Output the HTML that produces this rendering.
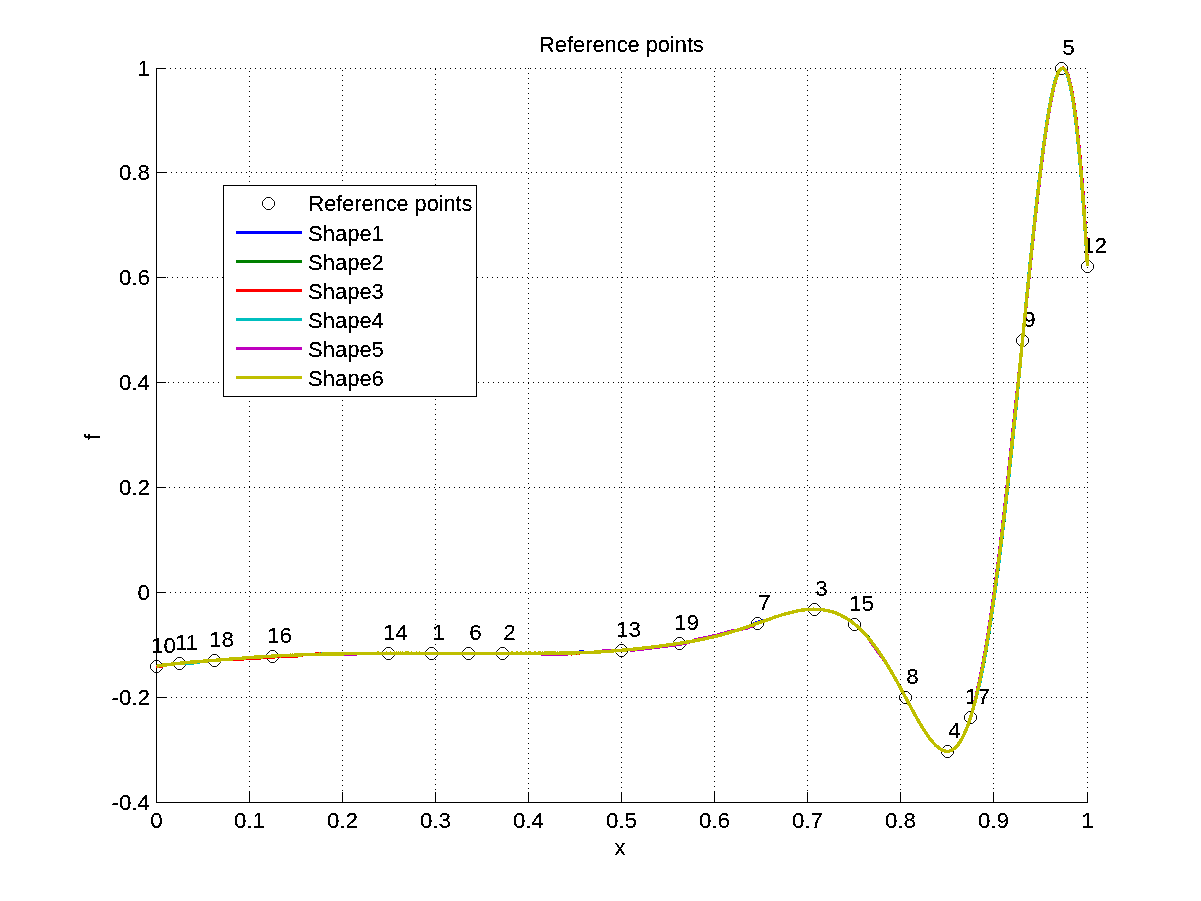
<!DOCTYPE html><html><head><meta charset="utf-8"><title>Reference points</title><style>html,body{margin:0;padding:0;background:#fff;overflow:hidden}</style></head><body><svg width="1201" height="901" viewBox="0 0 1201 901" style="display:block">
<rect x="0" y="0" width="1201" height="901" fill="#fff"/>
<defs><filter id="bin" x="0" y="0" width="100%" height="100%" filterUnits="userSpaceOnUse" color-interpolation-filters="sRGB"><feComponentTransfer><feFuncA type="discrete" tableValues="0 0 0 0 1 1 1 1 1 1"/></feComponentTransfer></filter></defs>
<g stroke="#000" stroke-width="1" stroke-dasharray="1 4" shape-rendering="crispEdges"><line x1="249.5" y1="71" x2="249.5" y2="802" /><line x1="342.5" y1="70" x2="342.5" y2="802" /><line x1="435.5" y1="69" x2="435.5" y2="802" /><line x1="528.5" y1="68" x2="528.5" y2="802" /><line x1="621.5" y1="72" x2="621.5" y2="802" /><line x1="714.5" y1="71" x2="714.5" y2="802" /><line x1="807.5" y1="70" x2="807.5" y2="802" /><line x1="900.5" y1="69" x2="900.5" y2="802" /><line x1="993.5" y1="68" x2="993.5" y2="802" /><line x1="1087.5" y1="72" x2="1087.5" y2="802" /><line x1="160" y1="68.5" x2="1088" y2="68.5" /><line x1="161" y1="172.5" x2="1088" y2="172.5" /><line x1="157" y1="277.5" x2="1088" y2="277.5" /><line x1="158" y1="382.5" x2="1088" y2="382.5" /><line x1="159" y1="487.5" x2="1088" y2="487.5" /><line x1="160" y1="592.5" x2="1088" y2="592.5" /><line x1="161" y1="697.5" x2="1088" y2="697.5" /></g>
<g stroke="#000" stroke-width="1" shape-rendering="crispEdges"><line x1="156.5" y1="68" x2="156.5" y2="803"/><line x1="156" y1="802.5" x2="1088" y2="802.5"/><line x1="156.5" y1="792" x2="156.5" y2="803"/><line x1="249.5" y1="792" x2="249.5" y2="803"/><line x1="342.5" y1="792" x2="342.5" y2="803"/><line x1="435.5" y1="792" x2="435.5" y2="803"/><line x1="528.5" y1="792" x2="528.5" y2="803"/><line x1="621.5" y1="792" x2="621.5" y2="803"/><line x1="714.5" y1="792" x2="714.5" y2="803"/><line x1="807.5" y1="792" x2="807.5" y2="803"/><line x1="900.5" y1="792" x2="900.5" y2="803"/><line x1="993.5" y1="792" x2="993.5" y2="803"/><line x1="1087.5" y1="792" x2="1087.5" y2="803"/><line x1="156" y1="68.5" x2="166" y2="68.5"/><line x1="156" y1="172.5" x2="166" y2="172.5"/><line x1="156" y1="277.5" x2="166" y2="277.5"/><line x1="156" y1="382.5" x2="166" y2="382.5"/><line x1="156" y1="487.5" x2="166" y2="487.5"/><line x1="156" y1="592.5" x2="166" y2="592.5"/><line x1="156" y1="697.5" x2="166" y2="697.5"/><line x1="156" y1="802.5" x2="166" y2="802.5"/></g>
<g font-family="'Liberation Sans', Arial, Helvetica, sans-serif" font-size="22.3" fill="#000" filter="url(#bin)"><text transform="translate(156.5 828) scale(1 1.0)" text-anchor="middle">0</text><text transform="translate(249.5 828) scale(1 1.0)" text-anchor="middle">0.1</text><text transform="translate(342.5 828) scale(1 1.0)" text-anchor="middle">0.2</text><text transform="translate(435.5 828) scale(1 1.0)" text-anchor="middle">0.3</text><text transform="translate(528.5 828) scale(1 1.0)" text-anchor="middle">0.4</text><text transform="translate(621.5 828) scale(1 1.0)" text-anchor="middle">0.5</text><text transform="translate(714.5 828) scale(1 1.0)" text-anchor="middle">0.6</text><text transform="translate(807.5 828) scale(1 1.0)" text-anchor="middle">0.7</text><text transform="translate(900.5 828) scale(1 1.0)" text-anchor="middle">0.8</text><text transform="translate(993.5 828) scale(1 1.0)" text-anchor="middle">0.9</text><text transform="translate(1087.5 828) scale(1 1.0)" text-anchor="middle">1</text><text transform="translate(150 76) scale(1 1.0)" text-anchor="end">1</text><text transform="translate(150 180) scale(1 1.0)" text-anchor="end">0.8</text><text transform="translate(150 285) scale(1 1.0)" text-anchor="end">0.6</text><text transform="translate(150 390) scale(1 1.0)" text-anchor="end">0.4</text><text transform="translate(150 495) scale(1 1.0)" text-anchor="end">0.2</text><text transform="translate(150 600) scale(1 1.0)" text-anchor="end">0</text><text transform="translate(150 705) scale(1 1.0)" text-anchor="end">-0.2</text><text transform="translate(150 810) scale(1 1.0)" text-anchor="end">-0.4</text><text transform="translate(620 855) scale(1 1.0)" text-anchor="middle" font-size="22">x</text><text transform="translate(100,437) rotate(-90) scale(1 1.0)" text-anchor="middle" font-size="22">f</text><text transform="translate(621.5 52) scale(1 1.0)" text-anchor="middle" font-size="21.8">Reference points</text></g>
<g fill="none" stroke="#000" stroke-width="1"><polygon points="154.5,660.5 158.5,660.5 162.5,664.5 162.5,668.5 158.5,672.5 154.5,672.5 150.5,668.5 150.5,664.5"/><polygon points="177.5,657.5 181.5,657.5 185.5,661.5 185.5,665.5 181.5,669.5 177.5,669.5 173.5,665.5 173.5,661.5"/><polygon points="212.5,654.5 216.5,654.5 220.5,658.5 220.5,662.5 216.5,666.5 212.5,666.5 208.5,662.5 208.5,658.5"/><polygon points="270.5,650.5 274.5,650.5 278.5,654.5 278.5,658.5 274.5,662.5 270.5,662.5 266.5,658.5 266.5,654.5"/><polygon points="386.5,647.5 390.5,647.5 394.5,651.5 394.5,655.5 390.5,659.5 386.5,659.5 382.5,655.5 382.5,651.5"/><polygon points="429.5,647.5 433.5,647.5 437.5,651.5 437.5,655.5 433.5,659.5 429.5,659.5 425.5,655.5 425.5,651.5"/><polygon points="466.5,647.5 470.5,647.5 474.5,651.5 474.5,655.5 470.5,659.5 466.5,659.5 462.5,655.5 462.5,651.5"/><polygon points="500.5,647.5 504.5,647.5 508.5,651.5 508.5,655.5 504.5,659.5 500.5,659.5 496.5,655.5 496.5,651.5"/><polygon points="619.5,644.5 623.5,644.5 627.5,648.5 627.5,652.5 623.5,656.5 619.5,656.5 615.5,652.5 615.5,648.5"/><polygon points="677.5,637.5 681.5,637.5 685.5,641.5 685.5,645.5 681.5,649.5 677.5,649.5 673.5,645.5 673.5,641.5"/><polygon points="755.5,617.5 759.5,617.5 763.5,621.5 763.5,625.5 759.5,629.5 755.5,629.5 751.5,625.5 751.5,621.5"/><polygon points="812.5,603.5 816.5,603.5 820.5,607.5 820.5,611.5 816.5,615.5 812.5,615.5 808.5,611.5 808.5,607.5"/><polygon points="852.5,618.5 856.5,618.5 860.5,622.5 860.5,626.5 856.5,630.5 852.5,630.5 848.5,626.5 848.5,622.5"/><polygon points="903.5,691.5 907.5,691.5 911.5,695.5 911.5,699.5 907.5,703.5 903.5,703.5 899.5,699.5 899.5,695.5"/><polygon points="945.5,745.5 949.5,745.5 953.5,749.5 953.5,753.5 949.5,757.5 945.5,757.5 941.5,753.5 941.5,749.5"/><polygon points="968.5,711.5 972.5,711.5 976.5,715.5 976.5,719.5 972.5,723.5 968.5,723.5 964.5,719.5 964.5,715.5"/><polygon points="1020.5,334.5 1024.5,334.5 1028.5,338.5 1028.5,342.5 1024.5,346.5 1020.5,346.5 1016.5,342.5 1016.5,338.5"/><polygon points="1059.5,62.5 1063.5,62.5 1067.5,66.5 1067.5,70.5 1063.5,74.5 1059.5,74.5 1055.5,70.5 1055.5,66.5"/><polygon points="1085.5,260.5 1089.5,260.5 1093.5,264.5 1093.5,268.5 1089.5,272.5 1085.5,272.5 1081.5,268.5 1081.5,264.5"/></g>
<g font-family="'Liberation Sans', Arial, Helvetica, sans-serif" font-size="22.3" fill="#000" filter="url(#bin)"><text transform="translate(163.5 653) scale(1 1.0)" text-anchor="middle">10</text><text transform="translate(186.5 650) scale(1 1.0)" text-anchor="middle">11</text><text transform="translate(221.5 647) scale(1 1.0)" text-anchor="middle">18</text><text transform="translate(279.5 643) scale(1 1.0)" text-anchor="middle">16</text><text transform="translate(395.5 640) scale(1 1.0)" text-anchor="middle">14</text><text transform="translate(438.5 640) scale(1 1.0)" text-anchor="middle">1</text><text transform="translate(475.5 640) scale(1 1.0)" text-anchor="middle">6</text><text transform="translate(509.5 640) scale(1 1.0)" text-anchor="middle">2</text><text transform="translate(628.5 637) scale(1 1.0)" text-anchor="middle">13</text><text transform="translate(686.5 630) scale(1 1.0)" text-anchor="middle">19</text><text transform="translate(764.5 610) scale(1 1.0)" text-anchor="middle">7</text><text transform="translate(821.5 596) scale(1 1.0)" text-anchor="middle">3</text><text transform="translate(861.5 611) scale(1 1.0)" text-anchor="middle">15</text><text transform="translate(912.5 684) scale(1 1.0)" text-anchor="middle">8</text><text transform="translate(954.5 738) scale(1 1.0)" text-anchor="middle">4</text><text transform="translate(977.5 704) scale(1 1.0)" text-anchor="middle">17</text><text transform="translate(1029.5 327) scale(1 1.0)" text-anchor="middle">9</text><text transform="translate(1068.5 55) scale(1 1.0)" text-anchor="middle">5</text><text transform="translate(1094.5 253) scale(1 1.0)" text-anchor="middle">12</text></g>
<path d="M156.50,666.32 L157.54,666.19 L158.57,665.81 L159.61,665.68 L160.64,665.55 L161.68,665.43 L162.71,665.17 L163.75,665.18 L164.78,664.92 L165.82,664.80 L166.86,664.80 L167.89,664.54 L168.93,664.29 L169.96,664.42 L171.00,664.16 L172.03,663.91 L173.07,663.91 L174.11,663.91 L175.14,663.79 L176.18,663.53 L177.21,663.41 L178.25,663.28 L179.28,663.28 L180.32,663.16 L181.35,663.03 L182.39,662.90 L183.43,662.91 L184.46,662.91 L185.50,662.52 L186.53,662.40 L187.57,662.53 L188.60,662.53 L189.64,662.28 L190.67,662.15 L191.71,662.15 L192.75,662.02 L193.78,662.03 L194.82,661.90 L195.85,661.90 L196.89,661.78 L197.92,661.52 L198.96,661.52 L199.99,661.40 L201.03,661.40 L202.07,661.40 L203.10,661.27 L204.14,661.02 L205.17,660.89 L206.21,660.90 L207.24,661.03 L208.28,660.77 L209.32,660.64 L210.35,660.65 L211.39,660.52 L212.42,660.52 L213.46,660.40 L214.49,660.40 L215.53,660.27 L216.56,660.14 L217.60,660.15 L218.64,659.89 L219.67,660.02 L220.71,659.77 L221.74,659.64 L222.78,659.64 L223.81,659.52 L224.85,659.39 L225.88,659.26 L226.92,659.27 L227.96,659.40 L228.99,659.14 L230.03,659.14 L231.06,659.02 L232.10,658.89 L233.13,658.76 L234.17,658.64 L235.21,658.64 L236.24,658.51 L237.28,658.52 L238.31,658.39 L239.35,658.26 L240.38,658.27 L241.42,658.27 L242.45,658.14 L243.49,658.01 L244.53,657.89 L245.56,657.89 L246.60,657.76 L247.63,657.77 L248.67,657.64 L249.70,657.64 L250.74,657.51 L251.77,657.39 L252.81,657.39 L253.85,657.39 L254.88,657.14 L255.92,657.14 L256.95,657.14 L257.99,657.01 L259.02,657.02 L260.06,657.02 L261.10,657.02 L262.13,656.89 L263.17,656.64 L264.20,656.64 L265.24,656.51 L266.27,656.52 L267.31,656.52 L268.34,656.39 L269.38,656.39 L270.42,656.27 L271.45,656.27 L272.49,656.02 L273.52,656.02 L274.56,656.02 L275.59,655.89 L276.63,655.89 L277.66,655.77 L278.70,655.77 L279.74,655.77 L280.77,655.90 L281.81,655.52 L282.84,655.65 L283.88,655.52 L284.91,655.52 L285.95,655.53 L286.98,655.27 L288.02,655.27 L289.06,655.40 L290.09,655.15 L291.13,655.28 L292.16,655.15 L293.20,655.28 L294.23,655.16 L295.27,655.03 L296.31,655.03 L297.34,655.03 L298.38,654.78 L299.41,654.91 L300.45,654.91 L301.48,654.91 L302.52,654.79 L303.55,654.79 L304.59,654.79 L305.63,654.66 L306.66,654.66 L307.70,654.67 L308.73,654.54 L309.77,654.67 L310.80,654.54 L311.84,654.42 L312.87,654.42 L313.91,654.42 L314.95,654.42 L315.98,654.42 L317.02,654.30 L318.05,654.30 L319.09,654.17 L320.12,654.30 L321.16,654.43 L322.20,654.18 L323.23,654.31 L324.27,654.05 L325.30,654.18 L326.34,654.06 L327.37,654.06 L328.41,654.19 L329.44,654.06 L330.48,654.06 L331.52,653.94 L332.55,653.94 L333.59,653.94 L334.62,653.94 L335.66,653.82 L336.69,653.95 L337.73,653.95 L338.76,653.95 L339.80,653.82 L340.84,653.83 L341.87,653.83 L342.91,653.83 L343.94,653.83 L344.98,653.71 L346.01,653.71 L347.05,653.71 L348.09,653.71 L349.12,653.58 L350.16,653.46 L351.19,653.59 L352.23,653.59 L353.26,653.59 L354.30,653.59 L355.33,653.47 L356.37,653.72 L357.41,653.47 L358.44,653.47 L359.48,653.60 L360.51,653.35 L361.55,653.61 L362.58,653.48 L363.62,653.48 L364.65,653.48 L365.69,653.36 L366.73,653.36 L367.76,653.49 L368.80,653.49 L369.83,653.36 L370.87,653.36 L371.90,653.37 L372.94,653.37 L373.97,653.24 L375.01,653.24 L376.05,653.37 L377.08,653.25 L378.12,653.12 L379.15,653.38 L380.19,653.25 L381.22,653.25 L382.26,653.38 L383.30,653.39 L384.33,653.26 L385.37,653.39 L386.40,653.14 L387.44,653.26 L388.47,653.27 L389.51,653.27 L390.54,653.14 L391.58,653.27 L392.62,653.27 L393.65,653.28 L394.69,653.15 L395.72,653.28 L396.76,653.15 L397.79,653.28 L398.83,653.16 L399.86,653.29 L400.90,653.16 L401.94,653.29 L402.97,653.16 L404.01,653.29 L405.04,653.17 L406.08,653.17 L407.11,653.17 L408.15,653.17 L409.19,653.30 L410.22,653.30 L411.26,653.18 L412.29,653.31 L413.33,653.31 L414.36,653.31 L415.40,653.31 L416.43,653.19 L417.47,653.32 L418.51,653.32 L419.54,653.19 L420.58,653.32 L421.61,653.32 L422.65,653.20 L423.68,653.20 L424.72,653.33 L425.75,653.33 L426.79,653.33 L427.83,653.46 L428.86,653.33 L429.90,653.21 L430.93,653.34 L431.97,653.21 L433.00,653.34 L434.04,653.34 L435.08,653.35 L436.11,653.22 L437.15,653.22 L438.18,653.35 L439.22,653.35 L440.25,653.23 L441.29,653.36 L442.32,653.36 L443.36,653.36 L444.40,653.36 L445.43,653.36 L446.47,653.36 L447.50,653.24 L448.54,653.37 L449.57,653.37 L450.61,653.37 L451.64,653.37 L452.68,653.50 L453.72,653.38 L454.75,653.38 L455.79,653.38 L456.82,653.32 L457.86,653.38 L458.89,653.39 L459.93,653.32 L460.96,653.39 L462.00,653.39 L463.04,653.39 L464.07,653.39 L465.11,653.40 L466.14,653.33 L467.18,653.40 L468.21,653.40 L469.25,653.34 L470.29,653.40 L471.32,653.41 L472.36,653.28 L473.39,653.28 L474.43,653.41 L475.46,653.41 L476.50,653.41 L477.53,653.29 L478.57,653.29 L479.61,653.42 L480.64,653.42 L481.68,653.36 L482.71,653.30 L483.75,653.30 L484.78,653.43 L485.82,653.37 L486.85,653.30 L487.89,653.37 L488.93,653.37 L489.96,653.31 L491.00,653.25 L492.03,653.25 L493.07,653.31 L494.10,653.25 L495.14,653.45 L496.18,653.19 L497.21,653.26 L498.25,653.32 L499.28,653.33 L500.32,653.20 L501.35,653.20 L502.39,653.27 L503.42,653.33 L504.46,653.33 L505.50,653.34 L506.53,653.27 L507.57,653.21 L508.60,653.34 L509.64,653.21 L510.67,653.28 L511.71,653.15 L512.74,653.22 L513.78,653.22 L514.82,653.29 L515.85,653.23 L516.89,653.16 L517.92,653.23 L518.96,653.23 L519.99,653.23 L521.03,653.17 L522.07,653.24 L523.10,653.24 L524.14,653.24 L525.17,653.18 L526.21,653.18 L527.24,653.24 L528.28,653.18 L529.31,653.12 L530.35,653.19 L531.39,653.32 L532.42,653.25 L533.46,653.25 L534.49,653.13 L535.53,653.19 L536.56,653.26 L537.60,653.20 L538.63,653.14 L539.67,653.07 L540.71,653.20 L541.74,653.27 L542.78,653.14 L543.81,653.27 L544.85,653.15 L545.88,653.21 L546.92,653.15 L547.95,653.09 L548.99,653.15 L550.03,653.22 L551.06,653.16 L552.10,653.22 L553.13,653.16 L554.17,653.16 L555.20,653.16 L556.24,653.23 L557.28,653.17 L558.31,653.30 L559.35,653.17 L560.38,653.11 L561.42,653.17 L562.45,653.05 L563.49,653.05 L564.52,653.05 L565.56,653.12 L566.60,653.05 L567.63,653.06 L568.67,652.99 L569.70,653.00 L570.74,653.00 L571.77,653.00 L572.81,652.94 L573.84,652.94 L574.88,652.94 L575.92,652.81 L576.96,652.56 L578.00,652.48 L578.97,652.22 L579.99,651.90 L581.10,651.83 L582.13,651.92 L583.15,652.07 L584.19,652.28 L585.23,652.42 L586.27,652.58 L587.31,652.51 L588.34,652.45 L589.38,652.39 L590.41,652.33 L591.45,652.26 L592.49,652.27 L593.52,652.33 L594.56,652.14 L595.59,652.14 L596.63,652.02 L597.66,652.02 L598.70,651.96 L599.73,651.83 L600.77,651.83 L601.81,651.71 L602.84,651.71 L603.88,651.52 L604.91,651.52 L605.95,651.59 L606.98,651.46 L608.02,651.33 L609.06,651.27 L610.09,651.21 L611.13,651.21 L612.16,651.08 L613.20,650.96 L614.23,650.77 L615.27,650.83 L616.30,650.71 L617.34,650.58 L618.38,650.52 L619.41,650.46 L620.45,650.33 L621.48,650.33 L622.52,650.14 L623.55,650.21 L624.59,649.95 L625.62,649.83 L626.66,649.83 L627.70,649.70 L628.73,649.58 L629.77,649.45 L630.80,649.32 L631.84,649.26 L632.87,649.20 L633.91,649.07 L634.94,648.95 L635.98,648.88 L637.02,648.76 L638.05,648.57 L639.09,648.44 L640.12,648.44 L641.16,648.25 L642.19,648.19 L643.23,648.06 L644.27,647.94 L645.30,647.75 L646.34,647.69 L647.37,647.56 L648.41,647.43 L649.44,647.37 L650.48,647.24 L651.51,647.05 L652.55,646.99 L653.59,646.80 L654.62,646.68 L655.66,646.68 L656.69,646.42 L657.73,646.36 L658.76,646.23 L659.80,646.04 L660.83,645.92 L661.87,645.86 L662.91,645.67 L663.94,645.60 L664.98,645.28 L666.01,645.29 L667.05,645.10 L668.08,644.91 L669.12,644.78 L670.16,644.59 L671.19,644.53 L672.23,644.40 L673.26,644.15 L674.30,644.28 L675.33,644.02 L676.37,643.77 L677.40,643.64 L678.44,643.52 L679.48,643.39 L680.51,643.13 L681.55,643.01 L682.58,642.95 L683.62,642.69 L684.65,642.50 L685.69,642.38 L686.72,642.12 L687.76,642.00 L688.80,641.80 L689.83,641.68 L690.87,641.49 L691.90,641.23 L692.94,641.11 L693.97,640.92 L695.01,640.66 L696.05,640.60 L697.08,640.35 L698.12,640.03 L699.15,639.97 L700.19,639.71 L701.22,639.46 L702.26,639.33 L703.29,639.14 L704.33,638.89 L705.37,638.70 L706.40,638.38 L707.44,638.12 L708.47,637.93 L709.51,637.74 L710.54,637.55 L711.58,637.30 L712.61,636.98 L713.65,636.79 L714.69,636.47 L715.72,636.28 L716.76,636.03 L717.79,635.84 L718.83,635.52 L719.86,635.20 L720.90,634.95 L721.93,634.69 L722.97,634.25 L724.01,634.06 L725.04,633.74 L726.08,633.48 L727.11,633.23 L728.15,632.85 L729.18,632.46 L730.22,632.34 L731.26,631.96 L732.29,631.70 L733.33,631.32 L734.36,631.07 L735.40,630.75 L736.43,630.43 L737.47,630.11 L738.50,629.79 L739.54,629.41 L740.58,629.16 L741.61,628.71 L742.65,628.39 L743.68,628.01 L744.72,627.69 L745.75,627.37 L746.79,627.12 L747.82,626.67 L748.86,626.35 L749.90,625.84 L750.93,625.59 L751.97,625.21 L752.94,624.70 L753.90,624.12 L754.86,623.55 L755.87,622.98 L756.89,622.73 L757.88,622.30 L758.94,621.91 L759.99,621.57 L761.10,621.39 L762.22,621.19 L763.31,621.14 L764.39,620.75 L765.43,620.49 L766.47,620.11 L767.50,619.73 L768.54,619.41 L769.57,619.09 L770.61,618.65 L771.64,618.39 L772.68,617.95 L773.71,617.69 L774.75,617.18 L775.79,616.93 L776.82,616.61 L777.86,616.23 L778.89,615.91 L779.93,615.53 L780.96,615.21 L782.00,614.89 L783.04,614.57 L784.07,614.38 L785.11,614.06 L786.14,613.68 L787.18,613.49 L788.21,613.17 L789.25,612.92 L790.28,612.60 L791.32,612.47 L792.36,612.03 L793.39,611.90 L794.43,611.58 L795.46,611.46 L796.50,611.20 L797.53,610.95 L798.57,610.76 L799.60,610.50 L800.64,610.44 L801.68,610.19 L802.71,610.12 L803.75,609.93 L804.78,609.87 L805.82,609.75 L806.85,609.68 L807.89,609.56 L808.92,609.43 L809.96,609.43 L811.00,609.24 L812.03,609.31 L813.07,609.18 L814.10,609.25 L815.14,609.19 L816.17,609.25 L817.21,609.32 L818.25,609.32 L819.28,609.45 L820.32,609.58 L821.35,609.58 L822.39,609.77 L823.42,609.90 L824.46,610.03 L825.49,610.29 L826.53,610.48 L827.57,610.55 L828.60,610.81 L829.64,611.13 L830.67,611.52 L831.71,611.65 L832.74,612.03 L833.78,612.35 L834.81,612.74 L835.85,613.06 L836.89,613.45 L837.92,614.02 L838.96,614.35 L839.99,614.80 L841.03,615.37 L842.06,616.02 L843.10,616.46 L844.14,617.04 L845.17,617.56 L846.21,618.20 L847.24,618.84 L848.28,619.55 L849.31,620.38 L850.35,620.89 L851.38,621.66 L852.42,622.56 L853.46,623.33 L854.49,624.10 L855.53,625.00 L856.56,625.90 L857.60,626.79 L858.63,627.88 L859.67,628.65 L860.70,629.68 L861.74,630.77 L862.78,631.86 L863.81,632.88 L864.85,633.97 L865.88,635.26 L866.92,636.34 L867.95,637.50 L868.99,638.84 L870.03,639.87 L871.06,641.15 L872.10,642.56 L873.13,643.91 L874.17,645.25 L875.20,646.60 L876.24,648.07 L877.27,649.61 L878.31,651.08 L879.35,652.56 L880.38,654.10 L881.42,655.63 L882.45,657.17 L883.49,658.84 L884.52,660.50 L885.56,662.10 L886.59,663.71 L887.63,665.44 L888.67,667.17 L889.70,668.83 L890.74,670.63 L891.77,672.55 L892.81,674.21 L893.84,676.07 L894.88,677.86 L895.91,679.66 L896.95,681.52 L897.99,683.50 L899.02,685.36 L900.06,687.15 L901.09,689.07 L902.13,691.00 L903.16,692.92 L904.20,694.97 L905.24,696.76 L906.27,698.75 L907.31,700.67 L908.34,702.53 L909.38,704.45 L910.41,706.50 L911.45,708.36 L912.48,710.21 L913.52,712.07 L914.56,714.06 L915.59,715.85 L916.63,717.71 L917.66,719.57 L918.70,721.30 L919.73,723.09 L920.77,724.82 L921.80,726.55 L922.84,728.22 L923.88,729.82 L924.91,731.48 L925.95,733.02 L926.98,734.56 L928.02,736.10 L929.05,737.51 L930.09,738.92 L931.13,740.13 L932.16,741.48 L933.20,742.63 L934.23,743.79 L935.27,744.81 L936.30,745.97 L937.34,746.74 L938.37,747.57 L939.41,748.40 L940.45,749.05 L941.48,749.69 L942.52,750.14 L943.55,750.46 L944.59,750.91 L945.62,751.10 L946.66,751.36 L947.69,751.23 L948.73,751.24 L949.77,750.92 L950.80,750.53 L951.84,750.09 L952.87,749.58 L953.91,748.81 L954.94,747.98 L955.98,747.02 L957.02,745.81 L958.05,744.66 L959.09,743.19 L960.12,741.65 L961.16,739.99 L962.19,738.20 L963.23,736.16 L964.26,733.98 L965.30,731.62 L966.34,729.12 L967.37,726.43 L968.41,723.68 L969.44,720.61 L970.48,717.54 L971.51,714.28 L972.55,710.70 L973.58,706.93 L974.62,703.15 L975.66,699.06 L976.69,694.77 L977.73,690.36 L978.76,685.75 L979.80,680.89 L980.83,675.96 L981.87,670.84 L982.90,665.40 L983.94,659.97 L984.98,654.14 L986.01,648.26 L987.05,642.18 L988.08,635.85 L989.12,629.32 L990.15,622.73 L991.19,615.75 L992.23,608.72 L993.26,601.55 L994.30,594.13 L995.33,586.58 L996.37,578.90 L997.40,570.90 L998.44,562.84 L999.47,554.71 L1000.51,546.27 L1001.55,537.69 L1002.58,528.93 L1003.62,520.16 L1004.65,511.07 L1005.69,501.92 L1006.72,492.71 L1007.76,483.30 L1008.79,473.83 L1009.83,464.17 L1010.87,454.51 L1011.90,444.65 L1012.94,434.67 L1013.97,424.75 L1015.01,414.64 L1016.04,404.47 L1017.08,394.36 L1018.12,384.12 L1019.15,373.75 L1020.19,363.39 L1021.22,353.15 L1022.26,342.78 L1023.29,332.35 L1024.33,321.99 L1025.36,311.68 L1026.40,301.44 L1027.44,291.14 L1028.47,280.90 L1029.51,270.79 L1030.54,260.88 L1031.58,250.83 L1032.61,241.04 L1033.65,231.31 L1034.68,221.71 L1035.72,212.24 L1036.76,202.90 L1037.79,193.75 L1038.83,184.92 L1039.86,176.22 L1040.90,167.77 L1041.93,159.39 L1042.97,151.46 L1044.01,143.78 L1045.04,136.29 L1046.08,129.06 L1047.11,122.34 L1048.15,115.75 L1049.18,109.61 L1050.22,103.72 L1051.25,98.29 L1052.29,93.17 L1053.33,88.56 L1054.36,84.34 L1055.40,80.63 L1056.43,77.30 L1057.47,74.42 L1058.50,72.19 L1059.54,70.27 L1060.57,69.05 L1061.61,68.29 L1062.65,68.03 L1063.68,68.35 L1064.72,69.25 L1065.75,70.79 L1066.79,72.97 L1067.82,75.72 L1068.86,79.31 L1069.89,83.41 L1070.93,88.21 L1071.97,93.58 L1073.00,99.79 L1074.04,106.77 L1075.07,114.26 L1076.11,122.58 L1077.14,131.61 L1078.18,141.53 L1079.22,152.35 L1080.25,163.68 L1081.29,175.90 L1082.32,188.90 L1083.36,202.72 L1084.39,217.32 L1085.43,232.87 L1086.46,249.19 L1087.50,266.35" fill="none" stroke="#0000ff" stroke-width="3.4" stroke-linejoin="round" shape-rendering="crispEdges"/>
<path d="M156.50,666.32 L157.54,666.19 L158.57,665.81 L159.61,665.68 L160.64,665.55 L161.68,665.43 L162.71,665.17 L163.75,665.18 L164.78,664.92 L165.82,664.80 L166.86,664.80 L167.89,664.54 L168.93,664.29 L169.96,664.42 L171.00,664.16 L172.03,663.91 L173.07,663.91 L174.11,663.91 L175.14,663.79 L176.18,663.53 L177.21,663.41 L178.25,663.28 L179.28,663.28 L180.32,663.16 L181.35,663.03 L182.39,662.90 L183.43,662.91 L184.46,662.91 L185.50,662.52 L186.53,662.40 L187.57,662.53 L188.60,662.53 L189.64,662.28 L190.67,662.15 L191.71,662.15 L192.75,662.02 L193.78,662.03 L194.82,661.90 L195.85,661.90 L196.89,661.78 L197.92,661.52 L198.96,661.52 L199.99,661.40 L201.03,661.40 L202.07,661.40 L203.10,661.27 L204.14,661.02 L205.17,660.89 L206.21,660.90 L207.24,661.03 L208.28,660.77 L209.32,660.64 L210.35,660.65 L211.39,660.52 L212.42,660.52 L213.46,660.40 L214.49,660.40 L215.53,660.27 L216.56,660.14 L217.60,660.15 L218.64,659.89 L219.67,660.02 L220.71,659.77 L221.74,659.64 L222.78,659.64 L223.81,659.52 L224.85,659.39 L225.88,659.26 L226.92,659.27 L227.96,659.40 L228.99,659.14 L230.03,659.14 L231.06,659.02 L232.10,658.89 L233.13,658.76 L234.17,658.64 L235.21,658.64 L236.24,658.51 L237.28,658.52 L238.31,658.39 L239.35,658.26 L240.38,658.27 L241.42,658.27 L242.45,658.14 L243.49,658.01 L244.53,657.89 L245.56,657.89 L246.60,657.76 L247.63,657.77 L248.67,657.64 L249.70,657.64 L250.74,657.51 L251.77,657.39 L252.81,657.39 L253.85,657.39 L254.88,657.14 L255.92,657.14 L256.95,657.14 L257.99,657.01 L259.02,657.02 L260.06,657.02 L261.10,657.02 L262.13,656.89 L263.17,656.64 L264.20,656.64 L265.24,656.51 L266.27,656.52 L267.31,656.52 L268.34,656.39 L269.38,656.39 L270.42,656.27 L271.45,656.27 L272.49,656.02 L273.52,656.02 L274.56,656.02 L275.59,655.89 L276.63,655.89 L277.66,655.77 L278.70,655.77 L279.74,655.77 L280.77,655.90 L281.81,655.52 L282.84,655.65 L283.88,655.52 L284.91,655.52 L285.95,655.53 L286.98,655.27 L288.02,655.27 L289.06,655.40 L290.09,655.15 L291.13,655.28 L292.16,655.15 L293.20,655.28 L294.23,655.16 L295.27,655.03 L296.31,655.03 L297.34,655.03 L298.38,654.78 L299.41,654.91 L300.45,654.91 L301.48,654.91 L302.52,654.79 L303.55,654.79 L304.59,654.79 L305.63,654.66 L306.66,654.66 L307.70,654.67 L308.73,654.54 L309.77,654.67 L310.80,654.54 L311.84,654.42 L312.87,654.42 L313.91,654.42 L314.95,654.42 L315.98,654.42 L317.02,654.30 L318.05,654.30 L319.09,654.17 L320.12,654.30 L321.16,654.43 L322.20,654.18 L323.23,654.31 L324.27,654.05 L325.30,654.18 L326.34,654.06 L327.37,654.06 L328.41,654.19 L329.44,654.06 L330.48,654.06 L331.52,653.94 L332.55,653.94 L333.59,653.94 L334.62,653.94 L335.66,653.82 L336.69,653.95 L337.73,653.95 L338.76,653.95 L339.80,653.82 L340.84,653.83 L341.87,653.83 L342.91,653.83 L343.94,653.83 L344.98,653.71 L346.01,653.71 L347.05,653.71 L348.09,653.71 L349.12,653.58 L350.16,653.46 L351.19,653.59 L352.23,653.59 L353.26,653.59 L354.30,653.59 L355.33,653.47 L356.37,653.72 L357.41,653.47 L358.44,653.47 L359.48,653.60 L360.51,653.35 L361.55,653.61 L362.58,653.48 L363.62,653.48 L364.65,653.48 L365.69,653.36 L366.73,653.36 L367.76,653.49 L368.80,653.49 L369.83,653.36 L370.87,653.36 L371.90,653.37 L372.94,653.37 L373.97,653.24 L375.01,653.24 L376.05,653.37 L377.08,653.25 L378.12,653.12 L379.15,653.38 L380.19,653.25 L381.22,653.25 L382.26,653.38 L383.30,653.39 L384.33,653.26 L385.37,653.39 L386.40,653.14 L387.44,653.26 L388.47,653.27 L389.51,653.27 L390.54,653.14 L391.58,653.27 L392.62,653.27 L393.65,653.28 L394.69,653.15 L395.72,653.28 L396.76,653.15 L397.79,653.28 L398.83,653.16 L399.86,653.29 L400.90,653.16 L401.94,653.29 L402.97,653.16 L404.01,653.29 L405.04,653.17 L406.08,653.17 L407.11,653.17 L408.15,653.17 L409.19,653.30 L410.22,653.30 L411.26,653.18 L412.29,653.31 L413.33,653.31 L414.36,653.31 L415.40,653.31 L416.43,653.19 L417.47,653.32 L418.51,653.32 L419.54,653.19 L420.58,653.32 L421.61,653.32 L422.65,653.20 L423.68,653.20 L424.72,653.33 L425.75,653.33 L426.79,653.33 L427.83,653.46 L428.86,653.33 L429.90,653.21 L430.93,653.34 L431.97,653.21 L433.00,653.34 L434.04,653.34 L435.08,653.35 L436.11,653.22 L437.15,653.22 L438.18,653.35 L439.22,653.35 L440.25,653.23 L441.29,653.36 L442.32,653.36 L443.36,653.36 L444.40,653.36 L445.43,653.36 L446.47,653.36 L447.50,653.24 L448.54,653.37 L449.57,653.37 L450.61,653.37 L451.64,653.37 L452.68,653.50 L453.72,653.38 L454.75,653.38 L455.79,653.38 L456.82,653.32 L457.86,653.38 L458.89,653.39 L459.93,653.32 L460.96,653.39 L462.00,653.39 L463.04,653.39 L464.07,653.39 L465.11,653.40 L466.14,653.33 L467.18,653.40 L468.21,653.40 L469.25,653.34 L470.29,653.40 L471.32,653.41 L472.36,653.28 L473.39,653.28 L474.43,653.41 L475.46,653.41 L476.50,653.41 L477.53,653.29 L478.57,653.29 L479.61,653.42 L480.64,653.42 L481.68,653.36 L482.71,653.30 L483.75,653.30 L484.78,653.43 L485.82,653.37 L486.85,653.30 L487.89,653.37 L488.93,653.37 L489.96,653.31 L491.00,653.25 L492.03,653.25 L493.07,653.31 L494.10,653.25 L495.14,653.45 L496.18,653.19 L497.21,653.26 L498.25,653.32 L499.28,653.33 L500.32,653.20 L501.35,653.20 L502.39,653.27 L503.42,653.33 L504.46,653.33 L505.50,653.34 L506.53,653.27 L507.57,653.21 L508.60,653.34 L509.64,653.21 L510.67,653.28 L511.71,653.15 L512.74,653.22 L513.78,653.22 L514.82,653.29 L515.85,653.23 L516.89,653.16 L517.92,653.23 L518.96,653.23 L519.99,653.23 L521.03,653.17 L522.07,653.24 L523.10,653.24 L524.14,653.24 L525.17,653.18 L526.21,653.18 L527.24,653.24 L528.28,653.18 L529.31,653.12 L530.35,653.19 L531.39,653.32 L532.42,653.25 L533.46,653.25 L534.49,653.13 L535.53,653.19 L536.56,653.26 L537.60,653.20 L538.63,653.14 L539.67,653.07 L540.71,653.20 L541.74,653.27 L542.78,653.14 L543.81,653.27 L544.85,653.15 L545.88,653.21 L546.92,653.15 L547.95,653.09 L548.99,653.15 L550.03,653.22 L551.06,653.16 L552.10,653.22 L553.13,653.16 L554.17,653.16 L555.20,653.16 L556.24,653.23 L557.28,653.17 L558.31,653.30 L559.35,653.17 L560.38,653.11 L561.42,653.17 L562.45,653.05 L563.49,653.05 L564.52,653.05 L565.56,653.12 L566.60,653.05 L567.63,653.06 L568.67,652.99 L569.70,653.00 L570.74,653.00 L571.77,653.00 L572.81,652.94 L573.84,652.94 L574.88,652.94 L575.92,652.81 L576.95,652.75 L577.99,652.88 L579.02,652.82 L580.06,652.69 L581.09,652.63 L582.13,652.70 L583.17,652.63 L584.20,652.64 L585.24,652.57 L586.27,652.58 L587.31,652.51 L588.34,652.45 L589.38,652.39 L590.41,652.33 L591.45,652.26 L592.49,652.27 L593.52,652.33 L594.56,652.14 L595.59,652.14 L596.63,652.02 L597.66,652.02 L598.70,651.96 L599.73,651.83 L600.77,651.83 L601.81,651.71 L602.84,651.71 L603.88,651.52 L604.91,651.52 L605.95,651.59 L606.98,651.46 L608.02,651.33 L609.06,651.27 L610.09,651.21 L611.13,651.21 L612.16,651.08 L613.20,650.96 L614.23,650.77 L615.27,650.83 L616.30,650.71 L617.34,650.58 L618.38,650.52 L619.41,650.46 L620.45,650.33 L621.48,650.33 L622.52,650.14 L623.55,650.21 L624.59,649.95 L625.62,649.83 L626.66,649.83 L627.70,649.70 L628.73,649.58 L629.77,649.45 L630.80,649.32 L631.84,649.26 L632.87,649.20 L633.91,649.07 L634.94,648.95 L635.98,648.88 L637.02,648.76 L638.05,648.57 L639.09,648.44 L640.12,648.44 L641.16,648.25 L642.19,648.19 L643.23,648.06 L644.27,647.94 L645.30,647.75 L646.34,647.69 L647.37,647.56 L648.41,647.43 L649.44,647.37 L650.48,647.24 L651.51,647.05 L652.55,646.99 L653.59,646.80 L654.62,646.68 L655.66,646.68 L656.69,646.42 L657.73,646.36 L658.76,646.23 L659.80,646.04 L660.83,645.92 L661.87,645.86 L662.91,645.67 L663.94,645.60 L664.98,645.28 L666.01,645.29 L667.05,645.10 L668.08,644.91 L669.12,644.78 L670.16,644.59 L671.19,644.53 L672.23,644.40 L673.26,644.15 L674.30,644.28 L675.33,644.02 L676.37,643.77 L677.40,643.64 L678.44,643.52 L679.48,643.39 L680.51,643.13 L681.55,643.01 L682.58,642.95 L683.62,642.69 L684.65,642.50 L685.69,642.38 L686.72,642.12 L687.76,642.00 L688.80,641.80 L689.83,641.68 L690.87,641.49 L691.90,641.23 L692.94,641.11 L693.97,640.92 L695.01,640.66 L696.05,640.60 L697.08,640.35 L698.12,640.03 L699.15,639.97 L700.19,639.71 L701.22,639.46 L702.26,639.33 L703.29,639.14 L704.33,638.89 L705.37,638.70 L706.40,638.38 L707.44,638.12 L708.47,637.93 L709.51,637.74 L710.54,637.55 L711.58,637.30 L712.61,636.98 L713.65,636.79 L714.69,636.47 L715.72,636.28 L716.76,636.03 L717.79,635.84 L718.83,635.52 L719.86,635.20 L720.90,634.95 L721.93,634.69 L722.97,634.25 L724.01,634.06 L725.04,633.74 L726.08,633.48 L727.11,633.23 L728.15,632.85 L729.18,632.46 L730.22,632.34 L731.26,631.96 L732.29,631.70 L733.33,631.32 L734.36,631.07 L735.40,630.75 L736.43,630.43 L737.47,630.11 L738.50,629.79 L739.54,629.41 L740.58,629.16 L741.61,628.71 L742.65,628.39 L743.68,628.01 L744.72,627.69 L745.75,627.37 L746.79,627.12 L747.82,626.67 L748.86,626.35 L749.90,625.84 L750.93,625.59 L751.97,625.21 L753.00,624.89 L754.04,624.51 L755.07,624.12 L756.11,623.74 L757.15,623.49 L758.18,623.04 L759.22,622.66 L760.25,622.28 L761.29,621.89 L762.32,621.51 L763.36,621.26 L764.39,620.75 L765.43,620.49 L766.47,620.11 L767.50,619.73 L768.54,619.41 L769.57,619.09 L770.61,618.65 L771.64,618.39 L772.68,617.95 L773.71,617.69 L774.75,617.18 L775.79,616.93 L776.82,616.61 L777.86,616.23 L778.89,615.91 L779.93,615.53 L780.96,615.21 L782.00,614.89 L783.04,614.57 L784.07,614.38 L785.11,614.06 L786.14,613.68 L787.18,613.49 L788.21,613.17 L789.25,612.92 L790.28,612.60 L791.32,612.47 L792.36,612.03 L793.39,611.90 L794.43,611.58 L795.46,611.46 L796.50,611.20 L797.53,610.95 L798.57,610.76 L799.60,610.50 L800.64,610.44 L801.68,610.19 L802.71,610.12 L803.75,609.93 L804.78,609.87 L805.82,609.75 L806.85,609.68 L807.89,609.56 L808.92,609.43 L809.96,609.43 L811.00,609.24 L812.03,609.31 L813.07,609.18 L814.10,609.25 L815.14,609.19 L816.17,609.25 L817.21,609.32 L818.25,609.32 L819.28,609.45 L820.32,609.58 L821.35,609.58 L822.39,609.77 L823.42,609.90 L824.46,610.03 L825.49,610.29 L826.53,610.48 L827.57,610.55 L828.60,610.81 L829.64,611.13 L830.67,611.52 L831.71,611.65 L832.74,612.03 L833.78,612.35 L834.81,612.74 L835.85,613.06 L836.89,613.45 L837.92,614.02 L838.96,614.35 L839.99,614.80 L841.03,615.37 L842.06,616.02 L843.10,616.46 L844.14,617.04 L845.17,617.56 L846.21,618.20 L847.24,618.84 L848.28,619.55 L849.31,620.38 L850.35,620.89 L851.38,621.66 L852.42,622.56 L853.46,623.33 L854.49,624.10 L855.53,625.00 L856.56,625.90 L857.60,626.79 L858.63,627.88 L859.67,628.65 L860.70,629.68 L861.74,630.77 L862.86,631.77 L864.02,632.68 L865.19,633.67 L866.35,634.85 L867.28,636.01 L868.21,637.29 L869.11,638.74 L870.03,639.87 L871.06,641.15 L872.10,642.56 L873.13,643.91 L874.17,645.25 L875.20,646.60 L876.24,648.07 L877.27,649.61 L878.31,651.08 L879.35,652.56 L880.38,654.10 L881.42,655.63 L882.45,657.17 L883.49,658.84 L884.52,660.50 L885.56,662.10 L886.59,663.71 L887.63,665.44 L888.67,667.17 L889.70,668.83 L890.74,670.63 L891.77,672.55 L892.81,674.21 L893.84,676.07 L894.88,677.86 L895.91,679.66 L896.95,681.52 L897.99,683.50 L899.02,685.36 L900.06,687.15 L901.09,689.07 L902.13,691.00 L903.16,692.92 L904.20,694.97 L905.24,696.76 L906.27,698.75 L907.31,700.67 L908.34,702.53 L909.38,704.45 L910.41,706.50 L911.45,708.36 L912.48,710.21 L913.52,712.07 L914.56,714.06 L915.59,715.85 L916.63,717.71 L917.66,719.57 L918.70,721.30 L919.73,723.09 L920.77,724.82 L921.80,726.55 L922.84,728.22 L923.88,729.82 L924.91,731.48 L925.95,733.02 L926.98,734.56 L928.02,736.10 L929.05,737.51 L930.09,738.92 L931.13,740.13 L932.16,741.48 L933.20,742.63 L934.23,743.79 L935.27,744.81 L936.30,745.97 L937.34,746.74 L938.37,747.57 L939.41,748.40 L940.45,749.05 L941.48,749.69 L942.52,750.14 L943.55,750.46 L944.59,750.91 L945.62,751.10 L946.66,751.36 L947.69,751.23 L948.73,751.24 L949.77,750.92 L950.80,750.53 L951.84,750.09 L952.87,749.58 L953.91,748.81 L954.94,747.98 L955.98,747.02 L957.02,745.81 L958.05,744.66 L959.09,743.19 L960.12,741.65 L961.16,739.99 L962.19,738.20 L963.23,736.16 L964.26,733.98 L965.30,731.62 L966.34,729.12 L967.37,726.43 L968.41,723.68 L969.44,720.61 L970.48,717.54 L971.51,714.28 L972.55,710.70 L973.58,706.93 L974.62,703.15 L975.71,699.07 L976.84,694.81 L977.97,690.41 L979.09,685.82 L980.15,680.96 L981.19,676.03 L982.22,670.91 L983.26,665.47 L984.29,660.03 L985.33,654.21 L986.37,648.32 L987.40,642.24 L988.44,635.90 L989.47,629.38 L990.51,622.78 L991.55,615.81 L992.58,608.77 L993.62,601.60 L994.65,594.18 L995.69,586.63 L996.72,578.95 L997.76,570.95 L998.80,562.88 L999.83,554.76 L1000.87,546.31 L1001.90,537.73 L1002.94,528.97 L1003.97,520.20 L1005.01,511.11 L1006.05,501.96 L1007.08,492.75 L1008.12,483.34 L1009.08,473.86 L1010.02,464.19 L1010.97,454.52 L1011.91,444.65 L1012.94,434.67 L1013.97,424.75 L1015.01,414.64 L1016.04,404.47 L1017.08,394.36 L1018.12,384.12 L1019.15,373.75 L1020.19,363.39 L1021.22,353.15 L1022.26,342.78 L1023.29,332.35 L1024.33,321.99 L1025.36,311.68 L1026.40,301.44 L1027.44,291.14 L1028.47,280.90 L1029.51,270.79 L1030.54,260.88 L1031.58,250.83 L1032.61,241.04 L1033.65,231.31 L1034.68,221.71 L1035.72,212.24 L1036.76,202.90 L1037.79,193.75 L1038.83,184.92 L1039.86,176.22 L1040.90,167.77 L1041.93,159.39 L1042.97,151.46 L1044.01,143.78 L1045.04,136.29 L1046.08,129.06 L1047.11,122.34 L1048.15,115.75 L1049.18,109.61 L1050.22,103.72 L1051.25,98.29 L1052.29,93.17 L1053.33,88.56 L1054.36,84.34 L1055.40,80.63 L1056.43,77.30 L1057.47,74.42 L1058.50,72.19 L1059.54,70.27 L1060.57,69.05 L1061.61,68.29 L1062.65,68.03 L1063.68,68.35 L1064.72,69.25 L1065.75,70.79 L1066.79,72.97 L1067.82,75.72 L1068.86,79.31 L1069.89,83.41 L1070.93,88.21 L1071.97,93.58 L1073.00,99.79 L1074.04,106.77 L1075.07,114.26 L1076.11,122.58 L1077.14,131.61 L1078.18,141.53 L1079.22,152.35 L1080.25,163.68 L1081.29,175.90 L1082.32,188.90 L1083.36,202.72 L1084.39,217.32 L1085.43,232.87 L1086.46,249.19 L1087.50,266.35" fill="none" stroke="#008000" stroke-width="3.4" stroke-linejoin="round" shape-rendering="crispEdges"/>
<path d="M156.51,666.41 L157.61,666.49 L158.69,666.31 L159.69,666.40 L160.74,666.35 L161.82,666.22 L162.79,665.83 L163.80,665.62 L164.83,665.16 L165.82,664.83 L166.86,664.80 L167.89,664.54 L168.93,664.29 L169.96,664.42 L171.00,664.16 L172.03,663.91 L173.07,663.91 L174.11,663.91 L175.14,663.79 L176.18,663.53 L177.21,663.41 L178.25,663.28 L179.28,663.28 L180.32,663.16 L181.35,663.03 L182.39,662.90 L183.43,662.91 L184.46,662.91 L185.50,662.52 L186.53,662.40 L187.57,662.53 L188.60,662.53 L189.64,662.28 L190.67,662.15 L191.71,662.15 L192.75,662.02 L193.78,662.03 L194.82,661.90 L195.85,661.90 L196.89,661.78 L197.92,661.52 L198.96,661.52 L199.99,661.40 L201.03,661.40 L202.07,661.40 L203.10,661.27 L204.14,661.02 L205.17,660.89 L206.21,660.90 L207.24,661.03 L208.28,660.77 L209.32,660.64 L210.35,660.65 L211.39,660.52 L212.42,660.52 L213.46,660.40 L214.49,660.40 L215.53,660.27 L216.56,660.14 L217.60,660.15 L218.64,659.89 L219.67,660.02 L220.71,659.77 L221.74,659.64 L222.78,659.64 L223.81,659.52 L224.85,659.39 L225.88,659.26 L226.92,659.27 L227.96,659.40 L228.99,659.14 L230.03,659.15 L231.09,659.23 L232.15,659.31 L233.21,659.39 L234.22,659.44 L235.25,659.44 L236.29,659.31 L237.32,659.31 L238.41,659.18 L239.40,659.06 L240.38,659.07 L241.47,659.07 L242.55,658.93 L243.59,658.81 L244.57,658.69 L245.61,658.69 L246.64,658.56 L247.68,658.56 L248.72,658.44 L249.75,658.44 L250.84,658.31 L251.82,658.19 L252.81,658.19 L253.94,658.19 L254.98,657.93 L255.92,657.94 L257.00,657.94 L258.04,657.81 L259.02,657.82 L260.06,657.82 L261.14,657.82 L262.28,657.68 L263.26,657.43 L264.25,657.44 L265.29,657.31 L266.27,657.32 L267.36,657.32 L268.39,657.19 L269.43,657.19 L270.46,657.07 L271.55,657.06 L272.58,656.81 L273.52,656.82 L274.61,656.82 L275.64,656.69 L276.68,656.69 L277.71,656.57 L278.70,656.57 L279.69,656.57 L280.87,656.70 L281.90,656.31 L282.84,656.45 L283.93,656.32 L284.91,656.32 L286.05,656.32 L287.08,656.07 L287.97,656.07 L289.10,656.20 L290.14,655.95 L291.13,656.08 L292.16,655.95 L293.20,656.08 L294.33,655.95 L295.32,655.83 L296.30,655.83 L297.44,655.83 L298.42,655.50 L299.38,655.43 L300.45,655.22 L301.49,655.02 L302.52,654.79 L303.55,654.79 L304.59,654.79 L305.63,654.66 L306.66,654.66 L307.70,654.67 L308.73,654.54 L309.77,654.67 L310.80,654.54 L311.84,654.42 L312.87,654.42 L313.91,654.42 L314.95,654.23 L315.96,654.03 L316.98,653.70 L318.01,653.51 L319.09,653.59 L320.17,653.93 L321.15,654.27 L322.20,654.18 L323.23,654.31 L324.27,654.05 L325.30,654.18 L326.34,654.06 L327.37,654.06 L328.41,654.19 L329.44,654.06 L330.48,654.06 L331.52,653.94 L332.55,653.94 L333.59,653.94 L334.62,653.94 L335.66,653.82 L336.69,653.95 L337.73,653.95 L338.76,653.95 L339.80,653.82 L340.84,653.83 L341.87,653.83 L342.91,653.83 L343.94,653.83 L344.98,653.71 L346.01,653.71 L347.05,653.71 L348.09,653.71 L349.12,653.58 L350.16,653.46 L351.19,653.59 L352.23,653.59 L353.26,653.59 L354.30,653.59 L355.33,653.47 L356.37,653.72 L357.41,653.47 L358.44,653.47 L359.48,653.60 L360.51,653.35 L361.55,653.61 L362.58,653.48 L363.62,653.48 L364.65,653.48 L365.69,653.36 L366.73,653.36 L367.76,653.49 L368.80,653.49 L369.83,653.36 L370.87,653.36 L371.90,653.37 L372.94,653.37 L373.97,653.24 L375.01,653.24 L376.05,653.37 L377.08,653.25 L378.12,653.12 L379.15,653.38 L380.19,653.25 L381.22,653.25 L382.26,653.38 L383.30,653.39 L384.33,653.26 L385.37,653.39 L386.40,653.14 L387.44,653.26 L388.47,653.27 L389.51,653.27 L390.54,653.14 L391.58,653.27 L392.62,653.27 L393.65,653.28 L394.69,653.15 L395.72,653.28 L396.76,653.15 L397.79,653.28 L398.83,653.16 L399.86,653.29 L400.90,653.16 L401.94,653.29 L402.97,653.16 L404.01,653.29 L405.04,653.17 L406.08,653.17 L407.11,653.17 L408.15,653.17 L409.19,653.30 L410.22,653.30 L411.26,653.18 L412.29,653.31 L413.33,653.31 L414.36,653.31 L415.40,653.31 L416.43,653.19 L417.47,653.32 L418.51,653.32 L419.54,653.19 L420.58,653.32 L421.61,653.32 L422.65,653.20 L423.68,653.20 L424.72,653.33 L425.75,653.33 L426.79,653.33 L427.83,653.46 L428.86,653.33 L429.90,653.21 L430.93,653.34 L431.97,653.21 L433.00,653.34 L434.04,653.34 L435.08,653.35 L436.11,653.22 L437.15,653.22 L438.18,653.35 L439.22,653.35 L440.25,653.23 L441.29,653.36 L442.32,653.36 L443.36,653.36 L444.40,653.36 L445.43,653.36 L446.47,653.36 L447.50,653.24 L448.54,653.37 L449.57,653.37 L450.61,653.37 L451.64,653.37 L452.68,653.50 L453.72,653.38 L454.75,653.38 L455.79,653.38 L456.82,653.32 L457.86,653.38 L458.89,653.39 L459.93,653.32 L460.96,653.39 L462.00,653.39 L463.04,653.39 L464.07,653.39 L465.11,653.40 L466.14,653.33 L467.18,653.40 L468.21,653.40 L469.25,653.34 L470.29,653.40 L471.32,653.41 L472.36,653.28 L473.39,653.28 L474.43,653.41 L475.46,653.41 L476.50,653.41 L477.53,653.29 L478.57,653.29 L479.61,653.42 L480.64,653.42 L481.68,653.36 L482.71,653.30 L483.75,653.30 L484.78,653.43 L485.82,653.37 L486.85,653.30 L487.89,653.37 L488.93,653.37 L489.96,653.31 L491.00,653.25 L492.03,653.25 L493.07,653.31 L494.10,653.25 L495.14,653.45 L496.18,653.19 L497.21,653.26 L498.25,653.32 L499.28,653.33 L500.32,653.20 L501.35,653.20 L502.39,653.27 L503.42,653.33 L504.46,653.33 L505.50,653.34 L506.53,653.27 L507.57,653.21 L508.60,653.34 L509.64,653.21 L510.67,653.28 L511.71,653.15 L512.74,653.22 L513.78,653.22 L514.82,653.29 L515.85,653.23 L516.89,653.16 L517.92,653.23 L518.96,653.23 L519.99,653.23 L521.03,653.17 L522.07,653.24 L523.10,653.24 L524.14,653.24 L525.17,653.18 L526.21,653.18 L527.24,653.24 L528.28,653.18 L529.31,653.12 L530.35,653.19 L531.39,653.32 L532.42,653.25 L533.46,653.25 L534.49,653.13 L535.53,653.19 L536.56,653.26 L537.60,653.20 L538.63,653.14 L539.67,653.07 L540.71,653.20 L541.74,653.27 L542.78,653.14 L543.81,653.27 L544.85,653.15 L545.88,653.21 L546.92,653.15 L547.95,653.09 L548.99,653.15 L550.03,653.22 L551.06,653.16 L552.10,653.22 L553.13,653.16 L554.17,653.16 L555.20,653.16 L556.24,653.23 L557.28,653.17 L558.31,653.30 L559.35,653.17 L560.38,653.11 L561.42,653.17 L562.45,653.05 L563.49,653.05 L564.52,653.05 L565.56,653.12 L566.60,653.17 L567.64,653.38 L568.68,653.53 L569.70,653.74 L570.74,653.80 L571.80,653.80 L572.83,653.74 L573.84,653.74 L574.93,653.74 L575.99,653.61 L576.93,653.36 L577.97,653.28 L579.04,653.01 L580.06,652.69 L581.09,652.63 L582.13,652.70 L583.17,652.63 L584.20,652.64 L585.24,652.57 L586.27,652.58 L587.31,652.51 L588.34,652.45 L589.38,652.39 L590.41,652.33 L591.45,652.26 L592.49,652.27 L593.52,652.33 L594.56,652.14 L595.59,652.14 L596.63,652.02 L597.66,652.02 L598.70,651.96 L599.73,651.83 L600.77,651.83 L601.81,651.71 L602.84,651.71 L603.88,651.52 L604.91,651.52 L605.95,651.59 L606.98,651.46 L608.02,651.33 L609.06,651.27 L610.09,651.21 L611.13,651.21 L612.16,651.08 L613.20,650.96 L614.23,650.77 L615.27,650.83 L616.30,650.71 L617.34,650.58 L618.38,650.52 L619.41,650.46 L620.45,650.33 L621.48,650.33 L622.52,650.14 L623.55,650.21 L624.59,649.95 L625.62,649.83 L626.66,649.83 L627.70,649.70 L628.73,649.58 L629.77,649.45 L630.80,649.32 L631.84,649.26 L632.87,649.20 L633.91,649.07 L634.94,648.95 L635.98,648.88 L637.02,648.76 L638.05,648.57 L639.09,648.44 L640.12,648.44 L641.16,648.25 L642.19,648.19 L643.23,648.06 L644.27,647.94 L645.30,647.75 L646.34,647.69 L647.37,647.56 L648.41,647.43 L649.44,647.37 L650.48,647.24 L651.51,647.05 L652.55,646.99 L653.59,646.80 L654.62,646.68 L655.66,646.68 L656.69,646.42 L657.73,646.36 L658.76,646.23 L659.80,646.04 L660.83,645.92 L661.87,645.86 L662.91,645.67 L663.94,645.60 L664.98,645.28 L666.01,645.29 L667.05,645.10 L668.08,644.91 L669.12,644.78 L670.16,644.59 L671.19,644.53 L672.23,644.40 L673.26,644.15 L674.30,644.28 L675.33,644.02 L676.37,643.77 L677.40,643.64 L678.44,643.52 L679.48,643.39 L680.51,643.13 L681.55,643.01 L682.58,642.95 L683.62,642.69 L684.65,642.50 L685.69,642.38 L686.72,642.12 L687.76,642.00 L688.80,641.80 L689.83,641.68 L690.87,641.49 L691.90,641.23 L692.94,641.11 L693.97,640.92 L695.01,640.66 L696.05,640.60 L697.08,640.35 L698.12,640.03 L699.15,639.97 L700.19,639.71 L701.22,639.46 L702.26,639.33 L703.29,639.14 L704.33,638.89 L705.37,638.70 L706.40,638.38 L707.44,638.12 L708.47,637.93 L709.51,637.74 L710.54,637.55 L711.58,637.30 L712.61,636.98 L713.65,636.79 L714.69,636.47 L715.72,636.28 L716.76,636.03 L717.79,635.84 L718.83,635.52 L719.86,635.20 L720.90,634.95 L721.93,634.69 L722.97,634.25 L724.01,634.06 L725.04,633.74 L726.08,633.48 L727.11,633.23 L728.15,632.85 L729.18,632.46 L730.22,632.34 L731.26,631.96 L732.29,631.70 L733.33,631.32 L734.36,631.07 L735.40,630.75 L736.43,630.43 L737.47,630.11 L738.50,629.79 L739.54,629.41 L740.58,629.16 L741.61,628.71 L742.65,628.39 L743.68,628.01 L744.72,627.69 L745.75,627.37 L746.79,627.12 L747.82,626.67 L748.86,626.35 L749.90,625.84 L750.93,625.59 L751.97,625.21 L753.00,624.89 L754.04,624.51 L755.07,624.12 L756.11,623.74 L757.15,623.49 L758.18,623.04 L759.22,622.66 L760.25,622.28 L761.29,621.89 L762.32,621.51 L763.36,621.26 L764.39,620.75 L765.43,620.49 L766.47,620.11 L767.50,619.73 L768.54,619.41 L769.57,619.09 L770.61,618.65 L771.64,618.39 L772.68,617.95 L773.71,617.69 L774.75,617.18 L775.79,616.93 L776.82,616.61 L777.86,616.23 L778.89,615.91 L779.93,615.53 L780.96,615.21 L782.00,614.89 L783.04,614.57 L784.07,614.38 L785.11,614.06 L786.14,613.68 L787.18,613.49 L788.21,613.17 L789.25,612.92 L790.28,612.60 L791.32,612.47 L792.36,612.03 L793.39,611.90 L794.43,611.58 L795.46,611.46 L796.50,611.20 L797.53,610.95 L798.57,610.76 L799.60,610.50 L800.64,610.44 L801.68,610.19 L802.71,610.12 L803.75,609.93 L804.78,609.87 L805.82,609.75 L806.85,609.68 L807.89,609.56 L808.92,609.43 L809.96,609.43 L811.00,609.24 L812.03,609.31 L813.07,609.18 L814.10,609.25 L815.14,609.19 L816.17,609.25 L817.21,609.32 L818.25,609.32 L819.28,609.45 L820.32,609.58 L821.35,609.58 L822.39,609.77 L823.42,609.90 L824.46,610.03 L825.49,610.29 L826.53,610.48 L827.57,610.55 L828.60,610.81 L829.64,611.13 L830.67,611.52 L831.71,611.65 L832.74,612.03 L833.78,612.35 L834.81,612.74 L835.85,613.06 L836.89,613.45 L837.92,614.02 L838.96,614.35 L839.99,614.80 L841.03,615.37 L842.06,616.02 L843.10,616.46 L844.14,617.04 L845.17,617.56 L846.21,618.20 L847.24,618.84 L848.28,619.55 L849.31,620.38 L850.35,620.89 L851.38,621.66 L852.42,622.56 L853.46,623.33 L854.49,624.10 L855.53,625.00 L856.56,625.90 L857.60,626.79 L858.63,627.88 L859.67,628.65 L860.70,629.68 L861.74,630.77 L862.78,631.86 L863.81,632.88 L864.85,633.97 L865.88,635.26 L866.92,636.34 L867.95,637.50 L868.99,638.84 L870.03,639.87 L871.06,641.15 L872.10,642.56 L873.13,643.91 L874.17,645.25 L875.20,646.60 L876.24,648.07 L877.27,649.61 L878.31,651.08 L879.35,652.56 L880.38,654.10 L881.42,655.63 L882.45,657.17 L883.49,658.84 L884.52,660.50 L885.56,662.10 L886.59,663.71 L887.63,665.44 L888.67,667.17 L889.70,668.83 L890.74,670.63 L891.77,672.55 L892.81,674.21 L893.84,676.07 L894.88,677.86 L895.91,679.66 L896.95,681.52 L897.99,683.50 L899.02,685.36 L900.06,687.15 L901.09,689.07 L902.13,691.00 L903.16,692.92 L904.20,694.97 L905.24,696.76 L906.27,698.75 L907.31,700.67 L908.34,702.53 L909.38,704.45 L910.41,706.50 L911.45,708.36 L912.48,710.21 L913.52,712.07 L914.56,714.06 L915.59,715.85 L916.63,717.71 L917.66,719.57 L918.70,721.30 L919.73,723.09 L920.77,724.82 L921.80,726.55 L922.84,728.22 L923.88,729.82 L924.91,731.48 L925.95,733.02 L926.98,734.56 L928.02,736.10 L929.05,737.51 L930.09,738.92 L931.13,740.13 L932.16,741.48 L933.20,742.63 L934.23,743.79 L935.27,744.81 L936.30,745.97 L937.34,746.74 L938.37,747.57 L939.41,748.40 L940.45,749.05 L941.48,749.69 L942.52,750.14 L943.55,750.46 L944.59,750.91 L945.62,751.10 L946.66,751.36 L947.69,751.23 L948.73,751.24 L949.77,750.92 L950.80,750.53 L951.84,750.09 L952.87,749.58 L953.91,748.81 L954.94,747.98 L955.98,747.02 L957.02,745.81 L958.05,744.66 L959.09,743.19 L960.12,741.65 L961.16,739.99 L962.19,738.20 L963.23,736.16 L964.26,733.98 L965.30,731.62 L966.34,729.12 L967.37,726.43 L968.41,723.68 L969.44,720.61 L970.48,717.54 L971.51,714.28 L972.55,710.70 L973.58,706.93 L974.62,703.15 L975.66,699.06 L976.69,694.77 L977.73,690.36 L978.76,685.75 L979.80,680.89 L980.83,675.96 L981.87,670.84 L982.90,665.40 L983.94,659.97 L984.98,654.14 L986.01,648.26 L987.05,642.18 L988.08,635.85 L989.12,629.32 L990.15,622.73 L991.19,615.75 L992.23,608.72 L993.26,601.55 L994.30,594.13 L995.33,586.58 L996.37,578.90 L997.40,570.90 L998.44,562.84 L999.47,554.71 L1000.51,546.27 L1001.55,537.69 L1002.58,528.93 L1003.62,520.16 L1004.65,511.07 L1005.69,501.92 L1006.72,492.71 L1007.76,483.30 L1008.79,473.83 L1009.83,464.17 L1010.87,454.51 L1011.90,444.65 L1012.94,434.67 L1013.97,424.75 L1015.01,414.64 L1016.04,404.47 L1017.08,394.36 L1018.12,384.12 L1019.15,373.75 L1020.19,363.39 L1021.22,353.15 L1022.26,342.78 L1023.29,332.35 L1024.33,321.99 L1025.36,311.68 L1026.40,301.44 L1027.44,291.14 L1028.47,280.90 L1029.51,270.79 L1030.54,260.88 L1031.58,250.83 L1032.61,241.04 L1033.65,231.31 L1034.68,221.71 L1035.72,212.24 L1036.76,202.90 L1037.79,193.75 L1038.83,184.92 L1039.86,176.22 L1040.90,167.77 L1041.93,159.39 L1042.97,151.46 L1044.01,143.78 L1045.04,136.29 L1046.08,129.06 L1047.11,122.34 L1048.15,115.75 L1049.18,109.61 L1050.22,103.72 L1051.25,98.29 L1052.29,93.17 L1053.33,88.56 L1054.36,84.34 L1055.40,80.63 L1056.43,77.30 L1057.47,74.42 L1058.50,72.19 L1059.54,70.27 L1060.57,69.05 L1061.61,68.29 L1062.65,68.03 L1063.71,68.31 L1064.82,69.16 L1065.94,70.68 L1067.07,72.85 L1068.13,75.62 L1069.17,79.22 L1070.21,83.33 L1071.24,88.14 L1072.28,93.53 L1073.32,99.74 L1074.35,106.73 L1075.39,114.22 L1076.43,122.55 L1077.46,131.57 L1078.50,141.50 L1079.53,152.32 L1080.57,163.65 L1081.61,175.88 L1082.64,188.87 L1083.65,202.70 L1084.60,217.30 L1085.55,232.86 L1086.51,249.19 L1087.50,266.35" fill="none" stroke="#ff0000" stroke-width="3.4" stroke-linejoin="round" shape-rendering="crispEdges"/>
<path d="M156.50,666.32 L157.54,666.19 L158.57,665.81 L159.61,665.68 L160.64,665.55 L161.68,665.43 L162.71,665.17 L163.75,665.18 L164.78,664.92 L165.82,664.80 L166.86,664.80 L167.89,664.54 L168.93,664.29 L169.96,664.42 L171.00,664.16 L172.03,663.91 L173.07,663.91 L174.11,663.91 L175.14,663.79 L176.18,663.53 L177.21,663.41 L178.25,663.33 L179.30,663.54 L180.37,663.62 L181.44,663.70 L182.44,663.70 L183.42,663.71 L184.61,663.69 L185.69,663.30 L186.53,663.20 L187.52,663.33 L188.70,663.32 L189.78,663.06 L190.72,662.95 L191.76,662.95 L192.79,662.82 L193.83,662.83 L194.87,662.70 L195.90,662.70 L197.03,662.56 L198.02,662.32 L199.00,662.13 L200.02,661.80 L201.03,661.59 L202.07,661.40 L203.10,661.27 L204.14,661.02 L205.17,660.89 L206.21,660.90 L207.24,661.03 L208.28,660.77 L209.32,660.64 L210.35,660.65 L211.39,660.52 L212.42,660.52 L213.46,660.40 L214.49,660.40 L215.53,660.27 L216.56,660.14 L217.60,660.15 L218.64,659.89 L219.67,660.02 L220.71,659.77 L221.74,659.64 L222.78,659.64 L223.81,659.52 L224.85,659.39 L225.88,659.26 L226.92,659.27 L227.96,659.40 L228.99,659.14 L230.03,659.14 L231.06,659.02 L232.10,658.89 L233.13,658.76 L234.17,658.64 L235.21,658.64 L236.24,658.51 L237.28,658.52 L238.31,658.39 L239.35,658.26 L240.38,658.27 L241.42,658.27 L242.45,658.14 L243.49,658.01 L244.53,657.89 L245.56,657.89 L246.60,657.76 L247.63,657.77 L248.67,657.64 L249.70,657.64 L250.74,657.51 L251.77,657.39 L252.81,657.39 L253.85,657.39 L254.88,657.14 L255.92,657.14 L256.95,657.14 L257.99,657.01 L259.02,657.02 L260.06,657.02 L261.10,657.02 L262.13,656.89 L263.17,656.64 L264.20,656.64 L265.24,656.51 L266.27,656.52 L267.31,656.52 L268.34,656.39 L269.38,656.39 L270.42,656.27 L271.45,656.27 L272.49,656.02 L273.52,656.02 L274.56,656.02 L275.59,655.89 L276.63,655.89 L277.66,655.77 L278.70,655.77 L279.74,655.77 L280.77,655.90 L281.81,655.52 L282.84,655.65 L283.88,655.52 L284.91,655.52 L285.95,655.53 L286.98,655.27 L288.02,655.27 L289.06,655.40 L290.09,655.15 L291.13,655.28 L292.16,655.15 L293.20,655.28 L294.23,655.16 L295.27,655.03 L296.31,655.03 L297.34,655.03 L298.38,654.78 L299.41,654.91 L300.45,654.91 L301.48,654.91 L302.52,654.79 L303.55,654.79 L304.59,654.79 L305.63,654.66 L306.66,654.66 L307.70,654.67 L308.73,654.54 L309.77,654.67 L310.80,654.54 L311.84,654.42 L312.87,654.42 L313.91,654.42 L314.95,654.42 L315.98,654.42 L317.02,654.30 L318.05,654.30 L319.09,654.17 L320.13,654.28 L321.15,654.20 L322.17,653.74 L323.19,653.66 L324.22,653.26 L325.30,653.38 L326.29,653.33 L327.41,653.54 L328.41,653.87 L329.44,653.95 L330.48,654.06 L331.52,653.94 L332.55,653.94 L333.59,653.94 L334.62,653.94 L335.66,653.82 L336.69,653.95 L337.73,653.95 L338.76,653.95 L339.80,653.82 L340.84,653.83 L341.87,653.83 L342.91,653.83 L343.94,653.83 L344.98,653.71 L346.01,653.71 L347.05,653.71 L348.09,653.71 L349.12,653.58 L350.16,653.46 L351.19,653.59 L352.23,653.59 L353.26,653.59 L354.30,653.59 L355.33,653.47 L356.37,653.72 L357.41,653.47 L358.44,653.47 L359.48,653.60 L360.51,653.35 L361.55,653.61 L362.58,653.48 L363.62,653.48 L364.65,653.48 L365.69,653.36 L366.73,653.36 L367.76,653.49 L368.80,653.49 L369.83,653.36 L370.87,653.36 L371.90,653.37 L372.94,653.37 L373.97,653.24 L375.01,653.24 L376.05,653.37 L377.08,653.25 L378.12,653.12 L379.15,653.38 L380.19,653.25 L381.22,653.25 L382.26,653.38 L383.30,653.39 L384.33,653.26 L385.37,653.39 L386.40,653.14 L387.44,653.26 L388.47,653.27 L389.51,653.27 L390.54,653.14 L391.58,653.27 L392.62,653.27 L393.65,653.28 L394.69,653.15 L395.72,653.28 L396.76,653.15 L397.79,653.28 L398.83,653.16 L399.86,653.29 L400.90,653.16 L401.94,653.29 L402.97,653.16 L404.01,653.29 L405.04,653.17 L406.08,653.17 L407.11,653.17 L408.15,653.17 L409.19,653.30 L410.22,653.30 L411.26,653.18 L412.29,653.31 L413.33,653.31 L414.36,653.31 L415.40,653.31 L416.43,653.19 L417.47,653.32 L418.51,653.32 L419.54,653.19 L420.58,653.32 L421.61,653.32 L422.65,653.20 L423.68,653.20 L424.72,653.33 L425.75,653.33 L426.79,653.33 L427.83,653.46 L428.86,653.33 L429.90,653.21 L430.93,653.34 L431.97,653.21 L433.00,653.34 L434.04,653.34 L435.08,653.35 L436.11,653.22 L437.15,653.22 L438.18,653.35 L439.22,653.35 L440.25,653.23 L441.29,653.36 L442.32,653.36 L443.36,653.36 L444.40,653.36 L445.43,653.36 L446.47,653.36 L447.50,653.24 L448.54,653.37 L449.57,653.37 L450.61,653.37 L451.64,653.37 L452.68,653.50 L453.72,653.38 L454.75,653.38 L455.79,653.38 L456.82,653.32 L457.86,653.38 L458.89,653.39 L459.93,653.32 L460.96,653.39 L462.00,653.39 L463.04,653.39 L464.07,653.39 L465.11,653.40 L466.14,653.33 L467.18,653.40 L468.21,653.40 L469.25,653.34 L470.29,653.40 L471.32,653.41 L472.36,653.28 L473.39,653.28 L474.43,653.41 L475.46,653.41 L476.50,653.41 L477.53,653.29 L478.57,653.29 L479.61,653.42 L480.64,653.42 L481.68,653.36 L482.71,653.30 L483.75,653.30 L484.78,653.43 L485.82,653.37 L486.85,653.30 L487.89,653.37 L488.93,653.37 L489.96,653.31 L491.00,653.25 L492.03,653.25 L493.07,653.31 L494.10,653.25 L495.14,653.45 L496.18,653.19 L497.21,653.26 L498.25,653.32 L499.28,653.33 L500.32,653.20 L501.35,653.20 L502.39,653.27 L503.42,653.33 L504.46,653.33 L505.50,653.34 L506.53,653.27 L507.57,653.21 L508.60,653.34 L509.64,653.21 L510.67,653.28 L511.71,653.15 L512.74,653.22 L513.78,653.22 L514.82,653.29 L515.85,653.23 L516.89,653.16 L517.92,653.23 L518.96,653.23 L519.99,653.23 L521.03,653.17 L522.07,653.24 L523.10,653.24 L524.14,653.24 L525.17,653.18 L526.21,653.18 L527.24,653.24 L528.28,653.18 L529.31,653.12 L530.35,653.19 L531.39,653.32 L532.42,653.25 L533.46,653.25 L534.49,653.13 L535.53,653.19 L536.56,653.26 L537.60,653.20 L538.63,653.14 L539.67,653.07 L540.71,653.20 L541.74,653.27 L542.78,653.14 L543.81,653.27 L544.85,653.15 L545.88,653.21 L546.92,653.15 L547.95,653.09 L548.99,653.15 L550.03,653.22 L551.06,653.16 L552.10,653.22 L553.13,653.16 L554.17,653.16 L555.20,653.16 L556.24,653.23 L557.28,653.17 L558.31,653.30 L559.35,653.17 L560.38,653.11 L561.42,653.17 L562.45,653.05 L563.49,653.05 L564.52,653.05 L565.56,653.12 L566.60,653.05 L567.63,653.06 L568.67,652.99 L569.70,653.00 L570.74,653.00 L571.77,653.00 L572.81,652.94 L573.84,652.94 L574.88,652.94 L575.92,652.81 L576.95,652.75 L577.99,652.88 L579.02,652.82 L580.06,652.69 L581.09,652.63 L582.13,652.70 L583.17,652.63 L584.20,652.64 L585.24,652.57 L586.27,652.58 L587.31,652.51 L588.34,652.45 L589.38,652.39 L590.41,652.33 L591.45,652.26 L592.49,652.27 L593.52,652.33 L594.56,652.14 L595.59,652.14 L596.63,652.02 L597.66,652.02 L598.70,651.96 L599.73,651.83 L600.77,651.83 L601.81,651.71 L602.84,651.71 L603.88,651.52 L604.91,651.52 L605.95,651.59 L606.98,651.46 L608.02,651.33 L609.06,651.27 L610.09,651.21 L611.13,651.21 L612.16,651.08 L613.20,650.96 L614.23,650.77 L615.27,650.83 L616.30,650.71 L617.34,650.58 L618.38,650.52 L619.41,650.46 L620.45,650.33 L621.48,650.33 L622.52,650.14 L623.55,650.21 L624.59,649.95 L625.62,649.83 L626.66,649.83 L627.70,649.70 L628.73,649.58 L629.77,649.45 L630.80,649.32 L631.84,649.26 L632.87,649.20 L633.91,649.07 L634.94,648.95 L635.98,648.88 L637.02,648.76 L638.05,648.57 L639.09,648.44 L640.12,648.44 L641.16,648.25 L642.19,648.19 L643.23,648.06 L644.27,647.94 L645.30,647.75 L646.34,647.69 L647.37,647.56 L648.41,647.43 L649.44,647.37 L650.48,647.24 L651.51,647.05 L652.55,646.99 L653.59,646.80 L654.62,646.68 L655.66,646.68 L656.69,646.42 L657.73,646.36 L658.76,646.23 L659.80,646.04 L660.83,645.92 L661.87,645.86 L662.91,645.67 L663.94,645.60 L664.98,645.28 L666.01,645.29 L667.05,645.10 L668.08,644.91 L669.12,644.78 L670.16,644.59 L671.19,644.53 L672.23,644.40 L673.26,644.15 L674.30,644.28 L675.33,644.02 L676.37,643.77 L677.40,643.64 L678.44,643.52 L679.48,643.39 L680.51,643.13 L681.55,643.01 L682.58,642.95 L683.62,642.69 L684.65,642.50 L685.69,642.38 L686.72,642.12 L687.76,642.00 L688.80,641.80 L689.83,641.68 L690.87,641.49 L691.90,641.23 L692.94,641.11 L693.97,640.92 L695.01,640.66 L696.05,640.60 L697.08,640.35 L698.12,640.03 L699.15,639.97 L700.19,639.71 L701.22,639.46 L702.26,639.33 L703.29,639.14 L704.33,638.89 L705.37,638.70 L706.40,638.38 L707.44,638.12 L708.47,637.93 L709.51,637.74 L710.54,637.55 L711.58,637.30 L712.61,636.98 L713.65,636.79 L714.69,636.47 L715.72,636.28 L716.76,636.03 L717.79,635.84 L718.83,635.52 L719.86,635.20 L720.90,634.95 L721.93,634.69 L722.97,634.25 L724.01,634.06 L725.04,633.74 L726.08,633.48 L727.11,633.23 L728.15,632.85 L729.18,632.46 L730.22,632.34 L731.26,631.96 L732.29,631.70 L733.33,631.32 L734.36,631.07 L735.40,630.75 L736.43,630.43 L737.47,630.11 L738.50,629.79 L739.54,629.41 L740.58,629.16 L741.61,628.71 L742.65,628.39 L743.68,628.01 L744.72,627.69 L745.75,627.37 L746.79,627.12 L747.82,626.67 L748.86,626.35 L749.90,625.84 L750.93,625.59 L751.97,625.21 L753.00,624.89 L754.04,624.51 L755.07,624.12 L756.11,623.74 L757.15,623.49 L758.18,623.04 L759.22,622.66 L760.25,622.28 L761.29,621.89 L762.32,621.51 L763.36,621.26 L764.39,620.75 L765.43,620.49 L766.47,620.11 L767.50,619.73 L768.54,619.41 L769.57,619.09 L770.61,618.65 L771.64,618.39 L772.68,617.95 L773.71,617.69 L774.75,617.18 L775.79,616.93 L776.82,616.61 L777.86,616.23 L778.89,615.91 L779.93,615.53 L780.96,615.21 L782.00,614.89 L783.04,614.57 L784.07,614.38 L785.11,614.06 L786.14,613.68 L787.18,613.49 L788.21,613.17 L789.25,612.92 L790.28,612.60 L791.32,612.47 L792.36,612.03 L793.39,611.90 L794.43,611.58 L795.46,611.46 L796.50,611.20 L797.53,610.95 L798.57,610.76 L799.60,610.50 L800.64,610.44 L801.68,610.19 L802.71,610.12 L803.75,609.93 L804.78,609.87 L805.82,609.75 L806.85,609.68 L807.89,609.56 L808.92,609.43 L809.96,609.43 L811.00,609.24 L812.03,609.31 L813.07,609.18 L814.10,609.25 L815.14,609.19 L816.17,609.25 L817.21,609.32 L818.25,609.32 L819.28,609.45 L820.32,609.58 L821.35,609.58 L822.39,609.77 L823.42,609.90 L824.46,610.03 L825.49,610.29 L826.53,610.48 L827.57,610.55 L828.60,610.81 L829.64,611.13 L830.67,611.52 L831.71,611.65 L832.74,612.03 L833.78,612.35 L834.81,612.74 L835.85,613.06 L836.89,613.45 L837.92,614.02 L838.96,614.35 L839.99,614.80 L841.03,615.37 L842.06,616.02 L843.10,616.46 L844.14,617.04 L845.17,617.56 L846.21,618.20 L847.24,618.84 L848.28,619.55 L849.31,620.38 L850.35,620.89 L851.38,621.66 L852.42,622.56 L853.46,623.33 L854.49,624.10 L855.53,625.00 L856.56,625.90 L857.60,626.79 L858.63,627.88 L859.67,628.65 L860.70,629.68 L861.74,630.77 L862.78,631.86 L863.81,632.88 L864.85,633.97 L865.88,635.26 L866.92,636.34 L867.95,637.50 L868.99,638.84 L870.03,639.87 L871.06,641.15 L872.10,642.56 L873.13,643.91 L874.17,645.25 L875.20,646.60 L876.24,648.07 L877.27,649.61 L878.31,651.08 L879.35,652.56 L880.38,654.10 L881.42,655.63 L882.45,657.17 L883.49,658.84 L884.52,660.50 L885.56,662.10 L886.59,663.71 L887.63,665.44 L888.67,667.17 L889.70,668.83 L890.74,670.63 L891.77,672.55 L892.81,674.21 L893.84,676.07 L894.88,677.86 L895.91,679.66 L896.95,681.52 L897.99,683.50 L899.02,685.36 L900.06,687.15 L901.09,689.07 L902.13,691.00 L903.16,692.92 L904.20,694.97 L905.24,696.76 L906.27,698.75 L907.31,700.67 L908.34,702.53 L909.38,704.45 L910.41,706.50 L911.45,708.36 L912.48,710.21 L913.52,712.07 L914.56,714.06 L915.59,715.85 L916.63,717.71 L917.66,719.57 L918.70,721.30 L919.73,723.09 L920.77,724.82 L921.80,726.55 L922.84,728.22 L923.88,729.82 L924.91,731.48 L925.95,733.02 L926.98,734.56 L928.02,736.10 L929.05,737.51 L930.09,738.92 L931.13,740.13 L932.16,741.48 L933.20,742.63 L934.23,743.79 L935.27,744.81 L936.30,745.97 L937.34,746.74 L938.37,747.57 L939.41,748.40 L940.45,749.05 L941.48,749.69 L942.52,750.14 L943.55,750.46 L944.59,750.91 L945.62,751.10 L946.66,751.36 L947.69,751.23 L948.73,751.24 L949.77,750.92 L950.80,750.53 L951.84,750.09 L952.87,749.58 L953.91,748.81 L954.94,747.98 L955.98,747.02 L957.02,745.81 L958.05,744.66 L959.09,743.19 L960.12,741.65 L961.16,739.99 L962.19,738.20 L963.23,736.16 L964.26,733.98 L965.30,731.62 L966.34,729.12 L967.37,726.43 L968.41,723.68 L969.44,720.61 L970.48,717.54 L971.51,714.28 L972.55,710.70 L973.58,706.93 L974.62,703.15 L975.71,699.07 L976.82,694.80 L977.94,690.40 L979.06,685.81 L980.11,680.95 L981.15,676.03 L982.18,670.90 L983.22,665.46 L984.26,660.02 L985.29,654.20 L986.33,648.31 L987.36,642.23 L988.40,635.90 L989.43,629.37 L990.47,622.78 L991.51,615.80 L992.54,608.76 L993.58,601.59 L994.61,594.17 L995.65,586.62 L996.68,578.94 L997.72,570.94 L998.76,562.88 L999.79,554.75 L1000.83,546.30 L1001.86,537.73 L1002.90,528.96 L1003.93,520.20 L1004.97,511.11 L1006.01,501.96 L1007.04,492.74 L1008.08,483.34 L1009.11,473.87 L1010.15,464.20 L1011.18,454.54 L1012.22,444.69 L1013.26,434.70 L1014.29,424.78 L1015.33,414.67 L1016.36,404.50 L1017.31,394.38 L1018.27,384.13 L1019.22,373.76 L1020.19,363.39 L1021.22,353.15 L1022.26,342.78 L1023.29,332.35 L1024.32,321.98 L1025.31,311.68 L1026.30,301.43 L1027.30,291.13 L1028.31,280.89 L1029.35,270.78 L1030.38,260.86 L1031.42,250.81 L1032.45,241.02 L1033.49,231.30 L1034.53,221.70 L1035.56,212.23 L1036.60,202.88 L1037.63,193.73 L1038.67,184.90 L1039.70,176.20 L1040.74,167.75 L1041.78,159.37 L1042.81,151.43 L1043.85,143.76 L1044.88,136.27 L1045.92,129.04 L1046.95,122.32 L1047.99,115.73 L1049.03,109.58 L1050.06,103.70 L1051.10,98.25 L1052.13,93.13 L1053.17,88.52 L1054.21,84.30 L1055.24,80.58 L1056.30,77.26 L1057.37,74.39 L1058.45,72.16 L1059.52,70.26 L1060.57,69.05 L1061.61,68.29 L1062.65,68.03 L1063.67,68.38 L1064.66,69.30 L1065.66,70.84 L1066.65,73.03 L1067.67,75.77 L1068.70,79.35 L1069.74,83.44 L1070.77,88.24 L1071.81,93.61 L1072.84,99.82 L1073.88,106.79 L1074.91,114.28 L1075.95,122.60 L1076.98,131.63 L1078.02,141.55 L1079.06,152.36 L1080.09,163.69 L1081.13,175.92 L1082.16,188.91 L1083.21,202.73 L1084.29,217.33 L1085.37,232.88 L1086.44,249.19 L1087.50,266.35" fill="none" stroke="#00bfbf" stroke-width="3.4" stroke-linejoin="round" shape-rendering="crispEdges"/>
<path d="M156.50,666.32 L157.54,666.19 L158.57,665.81 L159.61,665.68 L160.64,665.55 L161.68,665.43 L162.71,665.17 L163.75,665.18 L164.78,664.92 L165.82,664.80 L166.86,664.80 L167.89,664.54 L168.93,664.29 L169.96,664.42 L171.00,664.16 L172.03,663.91 L173.07,663.91 L174.11,663.91 L175.14,663.79 L176.18,663.53 L177.21,663.41 L178.25,663.28 L179.28,663.28 L180.32,663.16 L181.35,663.03 L182.39,662.90 L183.43,662.91 L184.46,662.91 L185.50,662.52 L186.53,662.40 L187.57,662.53 L188.60,662.53 L189.64,662.28 L190.67,662.15 L191.71,662.15 L192.75,662.02 L193.78,662.03 L194.82,661.90 L195.85,661.90 L196.89,661.78 L197.92,661.52 L198.96,661.52 L199.99,661.40 L201.03,661.40 L202.07,661.40 L203.10,661.27 L204.14,661.02 L205.17,660.89 L206.21,660.90 L207.24,661.03 L208.28,660.77 L209.32,660.64 L210.35,660.65 L211.39,660.52 L212.42,660.52 L213.46,660.40 L214.49,660.40 L215.53,660.27 L216.56,660.14 L217.60,660.15 L218.64,659.89 L219.67,660.02 L220.71,659.77 L221.74,659.64 L222.78,659.64 L223.81,659.52 L224.85,659.39 L225.88,659.26 L226.92,659.27 L227.96,659.40 L228.99,659.14 L230.03,659.14 L231.06,659.02 L232.10,658.89 L233.13,658.76 L234.17,658.64 L235.21,658.64 L236.24,658.51 L237.28,658.52 L238.31,658.39 L239.35,658.26 L240.38,658.27 L241.42,658.27 L242.45,658.14 L243.49,658.01 L244.53,657.89 L245.56,657.89 L246.60,657.76 L247.63,657.77 L248.67,657.64 L249.70,657.64 L250.74,657.51 L251.77,657.39 L252.81,657.39 L253.85,657.39 L254.88,657.14 L255.92,657.14 L256.95,657.14 L257.99,657.01 L259.02,657.02 L260.06,657.02 L261.10,657.02 L262.13,656.89 L263.17,656.64 L264.20,656.64 L265.24,656.51 L266.27,656.52 L267.31,656.52 L268.34,656.39 L269.38,656.39 L270.42,656.27 L271.45,656.27 L272.49,656.02 L273.52,656.02 L274.56,656.02 L275.59,655.89 L276.63,655.89 L277.66,655.77 L278.70,655.77 L279.74,655.77 L280.77,655.90 L281.81,655.52 L282.84,655.65 L283.88,655.52 L284.91,655.52 L285.95,655.53 L286.98,655.27 L288.02,655.27 L289.06,655.40 L290.09,655.15 L291.13,655.28 L292.16,655.15 L293.20,655.28 L294.23,655.16 L295.27,655.03 L296.31,655.03 L297.34,655.03 L298.38,654.78 L299.41,654.91 L300.45,654.91 L301.48,654.91 L302.52,654.79 L303.55,654.79 L304.59,654.79 L305.63,654.66 L306.66,654.66 L307.70,654.67 L308.73,654.54 L309.77,654.67 L310.80,654.54 L311.84,654.42 L312.87,654.42 L313.91,654.42 L314.95,654.42 L315.98,654.42 L317.02,654.30 L318.05,654.30 L319.09,654.17 L320.12,654.30 L321.16,654.43 L322.20,654.18 L323.23,654.31 L324.27,654.05 L325.30,654.18 L326.34,654.06 L327.37,654.06 L328.41,654.19 L329.44,654.06 L330.49,654.16 L331.53,654.24 L332.55,654.45 L333.59,654.66 L334.67,654.74 L335.66,654.62 L336.64,654.75 L337.73,654.75 L338.81,654.75 L339.85,654.62 L340.83,654.63 L341.87,654.63 L342.91,654.63 L343.99,654.63 L345.03,654.50 L346.01,654.51 L347.05,654.51 L348.13,654.51 L349.22,654.38 L350.15,654.26 L351.14,654.39 L352.23,654.39 L353.26,654.39 L354.34,654.33 L355.30,654.00 L356.37,654.05 L357.42,653.59 L358.44,653.47 L359.48,653.60 L360.51,653.35 L361.55,653.61 L362.58,653.48 L363.62,653.48 L364.65,653.48 L365.69,653.36 L366.73,653.36 L367.76,653.49 L368.80,653.49 L369.83,653.36 L370.87,653.36 L371.90,653.37 L372.94,653.37 L373.97,653.24 L375.01,653.24 L376.05,653.37 L377.08,653.25 L378.12,653.12 L379.15,653.38 L380.19,653.25 L381.22,653.25 L382.26,653.38 L383.30,653.39 L384.33,653.26 L385.37,653.39 L386.40,653.14 L387.44,653.26 L388.47,653.27 L389.51,653.27 L390.54,653.14 L391.58,653.27 L392.62,653.27 L393.65,653.28 L394.69,653.15 L395.72,653.28 L396.76,653.15 L397.79,653.28 L398.83,653.16 L399.86,653.29 L400.90,653.16 L401.94,653.29 L402.97,653.16 L404.01,653.29 L405.04,653.17 L406.08,653.17 L407.11,653.17 L408.15,653.17 L409.19,653.30 L410.22,653.30 L411.26,653.18 L412.29,653.31 L413.33,653.31 L414.36,653.31 L415.40,653.31 L416.43,653.19 L417.47,653.32 L418.51,653.32 L419.54,653.19 L420.58,653.32 L421.61,653.32 L422.65,653.20 L423.68,653.20 L424.72,653.33 L425.75,653.33 L426.79,653.33 L427.83,653.46 L428.86,653.33 L429.90,653.21 L430.93,653.34 L431.97,653.21 L433.00,653.34 L434.04,653.34 L435.08,653.35 L436.11,653.22 L437.15,653.22 L438.18,653.35 L439.22,653.35 L440.25,653.23 L441.29,653.36 L442.32,653.36 L443.36,653.36 L444.40,653.36 L445.43,653.36 L446.47,653.36 L447.50,653.24 L448.54,653.37 L449.57,653.37 L450.61,653.37 L451.64,653.37 L452.68,653.50 L453.72,653.38 L454.75,653.38 L455.79,653.38 L456.82,653.32 L457.86,653.38 L458.89,653.39 L459.93,653.32 L460.96,653.39 L462.00,653.39 L463.04,653.39 L464.07,653.39 L465.11,653.40 L466.14,653.33 L467.18,653.40 L468.21,653.40 L469.25,653.34 L470.29,653.40 L471.32,653.41 L472.36,653.28 L473.39,653.28 L474.43,653.41 L475.46,653.41 L476.50,653.41 L477.53,653.29 L478.57,653.29 L479.61,653.42 L480.64,653.42 L481.68,653.36 L482.71,653.30 L483.75,653.30 L484.78,653.43 L485.82,653.37 L486.85,653.30 L487.89,653.37 L488.93,653.37 L489.96,653.31 L491.00,653.25 L492.03,653.25 L493.07,653.31 L494.10,653.25 L495.14,653.45 L496.18,653.19 L497.21,653.26 L498.25,653.32 L499.28,653.33 L500.32,653.20 L501.35,653.20 L502.39,653.27 L503.42,653.33 L504.46,653.33 L505.50,653.34 L506.53,653.27 L507.57,653.21 L508.60,653.34 L509.64,653.21 L510.67,653.28 L511.71,653.15 L512.74,653.22 L513.78,653.22 L514.82,653.29 L515.85,653.23 L516.89,653.16 L517.92,653.23 L518.96,653.23 L519.99,653.23 L521.03,653.17 L522.07,653.24 L523.10,653.24 L524.14,653.24 L525.17,653.18 L526.21,653.18 L527.24,653.24 L528.28,653.18 L529.31,653.12 L530.35,653.19 L531.39,653.32 L532.42,653.25 L533.46,653.25 L534.49,653.13 L535.53,653.19 L536.56,653.26 L537.60,653.20 L538.64,653.26 L539.66,653.41 L540.65,653.74 L541.76,654.02 L542.78,653.94 L543.81,654.07 L544.87,653.95 L545.88,654.01 L546.97,653.95 L547.95,653.89 L548.94,653.95 L550.02,654.02 L551.06,653.96 L552.10,654.02 L553.16,653.96 L554.17,653.96 L555.18,653.96 L556.24,654.03 L557.25,653.97 L558.31,654.10 L559.42,653.97 L560.38,653.91 L561.44,653.97 L562.50,653.85 L563.49,653.85 L564.50,653.85 L565.56,653.92 L566.62,653.85 L567.65,653.86 L568.69,653.66 L569.70,653.46 L570.74,653.25 L571.77,653.04 L572.81,652.94 L573.84,652.94 L574.88,652.94 L575.92,652.81 L576.95,652.75 L577.99,652.88 L579.02,652.82 L580.06,652.69 L581.09,652.63 L582.13,652.70 L583.17,652.63 L584.20,652.64 L585.24,652.57 L586.27,652.58 L587.31,652.51 L588.34,652.45 L589.38,652.39 L590.41,652.33 L591.45,652.26 L592.49,652.27 L593.52,652.33 L594.56,652.14 L595.59,652.14 L596.63,652.02 L597.66,652.02 L598.70,651.96 L599.73,651.83 L600.76,651.68 L601.78,651.35 L602.79,651.14 L603.81,650.75 L604.94,650.72 L605.92,650.79 L606.89,650.66 L607.95,650.54 L609.01,650.47 L610.07,650.41 L611.08,650.44 L612.09,650.52 L613.14,650.60 L614.22,650.61 L615.27,650.83 L616.30,650.71 L617.34,650.58 L618.38,650.52 L619.41,650.46 L620.45,650.33 L621.48,650.33 L622.52,650.14 L623.55,650.21 L624.59,649.95 L625.62,649.83 L626.66,649.83 L627.70,649.70 L628.75,649.72 L629.81,649.80 L630.85,649.88 L631.88,650.03 L632.95,650.00 L634.01,649.87 L635.02,649.74 L636.05,649.68 L637.14,649.55 L638.17,649.36 L639.14,649.24 L640.20,649.24 L641.26,649.05 L642.27,648.99 L643.33,648.86 L644.39,648.73 L645.40,648.54 L646.41,648.48 L647.47,648.35 L648.48,648.23 L649.52,648.17 L650.60,648.04 L651.61,647.85 L652.65,647.79 L653.71,647.59 L654.67,647.47 L655.75,647.47 L656.81,647.21 L657.80,647.16 L658.88,647.02 L659.92,646.83 L660.91,646.71 L661.97,646.65 L663.00,646.46 L664.09,646.39 L665.10,646.08 L666.09,646.08 L667.19,645.88 L668.20,645.70 L669.24,645.57 L670.25,645.38 L671.26,645.32 L672.37,645.19 L673.31,644.95 L674.35,645.07 L675.52,644.80 L676.51,644.55 L677.50,644.44 L678.54,644.31 L679.62,644.18 L680.66,643.92 L681.62,643.81 L682.70,643.74 L683.79,643.47 L684.77,643.29 L685.83,643.16 L686.84,642.77 L687.83,642.44 L688.83,642.04 L689.84,641.71 L690.87,641.49 L691.90,641.23 L692.91,640.92 L693.89,640.53 L694.92,640.07 L695.92,639.81 L696.87,639.58 L697.97,639.24 L699.03,639.18 L700.00,638.94 L701.08,638.67 L702.14,638.54 L703.13,638.36 L704.16,638.10 L705.17,637.92 L706.19,637.61 L707.27,637.34 L708.33,637.15 L709.36,636.96 L710.38,636.77 L711.37,636.53 L712.42,636.20 L713.46,636.01 L714.50,635.70 L715.55,635.50 L716.59,635.25 L717.60,635.06 L718.59,634.75 L719.65,634.43 L720.71,634.17 L721.68,633.93 L722.74,633.48 L723.82,633.28 L724.83,632.97 L725.89,632.71 L726.88,632.46 L727.87,632.10 L728.99,631.69 L730.03,631.56 L731.04,631.24 L732.13,631.18 L733.23,631.00 L734.33,630.94 L735.40,630.75 L736.43,630.43 L737.47,630.11 L738.50,629.79 L739.54,629.41 L740.61,629.27 L741.72,629.01 L742.82,628.89 L743.92,628.71 L744.95,628.46 L745.97,628.14 L747.05,627.88 L748.10,627.42 L749.16,627.10 L750.17,626.59 L751.17,626.35 L752.22,625.97 L753.19,625.46 L754.17,624.87 L755.14,624.30 L756.11,623.74 L757.15,623.49 L758.18,623.04 L759.22,622.66 L760.25,622.28 L761.29,621.89 L762.32,621.51 L763.36,621.26 L764.39,620.75 L765.43,620.49 L766.47,620.11 L767.50,619.73 L768.54,619.41 L769.57,619.09 L770.61,618.65 L771.64,618.39 L772.68,617.95 L773.71,617.69 L774.75,617.18 L775.79,616.93 L776.82,616.61 L777.86,616.23 L778.89,615.91 L779.93,615.53 L780.96,615.21 L782.00,614.89 L783.04,614.57 L784.07,614.38 L785.11,614.06 L786.14,613.68 L787.18,613.49 L788.21,613.17 L789.25,612.92 L790.28,612.60 L791.32,612.47 L792.36,612.03 L793.39,611.90 L794.43,611.58 L795.46,611.46 L796.50,611.20 L797.53,610.95 L798.57,610.76 L799.60,610.50 L800.64,610.44 L801.68,610.19 L802.71,610.12 L803.75,609.93 L804.78,609.87 L805.82,609.75 L806.85,609.68 L807.89,609.56 L808.92,609.43 L809.96,609.43 L811.00,609.24 L812.03,609.31 L813.07,609.18 L814.10,609.25 L815.14,609.19 L816.17,609.25 L817.21,609.32 L818.25,609.32 L819.28,609.45 L820.32,609.58 L821.35,609.58 L822.39,609.77 L823.42,609.90 L824.46,610.03 L825.49,610.29 L826.53,610.48 L827.57,610.55 L828.60,610.81 L829.64,611.13 L830.67,611.52 L831.71,611.65 L832.74,612.03 L833.78,612.35 L834.81,612.74 L835.85,613.06 L836.89,613.45 L837.92,614.02 L838.96,614.35 L839.99,614.80 L841.03,615.37 L842.06,616.02 L843.10,616.46 L844.14,617.04 L845.17,617.56 L846.21,618.20 L847.24,618.84 L848.28,619.55 L849.31,620.38 L850.35,620.89 L851.38,621.66 L852.42,622.56 L853.46,623.33 L854.49,624.10 L855.53,625.00 L856.56,625.90 L857.60,626.79 L858.63,627.88 L859.67,628.65 L860.70,629.68 L861.74,630.77 L862.78,631.86 L863.81,632.88 L864.85,633.97 L865.88,635.26 L866.92,636.34 L867.95,637.50 L868.87,638.95 L869.78,640.09 L870.67,641.45 L871.58,642.95 L872.62,644.30 L873.66,645.64 L874.69,646.98 L875.71,648.44 L876.75,649.97 L877.79,651.45 L878.82,652.92 L879.90,654.42 L881.07,655.86 L882.24,657.31 L883.42,658.88 L884.52,660.50 L885.56,662.10 L886.59,663.71 L887.63,665.44 L888.67,667.17 L889.70,668.83 L890.74,670.63 L891.77,672.55 L892.81,674.21 L893.84,676.07 L894.88,677.86 L895.91,679.66 L896.95,681.52 L897.99,683.50 L899.02,685.36 L900.06,687.15 L901.09,689.07 L902.13,691.00 L903.16,692.92 L904.20,694.97 L905.24,696.76 L906.27,698.75 L907.31,700.67 L908.34,702.53 L909.38,704.45 L910.41,706.50 L911.45,708.36 L912.48,710.21 L913.52,712.07 L914.56,714.06 L915.59,715.85 L916.63,717.71 L917.66,719.57 L918.70,721.30 L919.73,723.09 L920.77,724.82 L921.80,726.55 L922.84,728.22 L923.88,729.82 L924.91,731.48 L925.95,733.02 L926.98,734.56 L928.02,736.10 L929.05,737.51 L930.09,738.92 L931.13,740.13 L932.16,741.48 L933.20,742.63 L934.23,743.79 L935.27,744.81 L936.30,745.97 L937.34,746.74 L938.37,747.57 L939.41,748.40 L940.45,749.05 L941.48,749.69 L942.52,750.14 L943.55,750.46 L944.59,750.91 L945.62,751.10 L946.66,751.36 L947.69,751.23 L948.73,751.24 L949.77,750.92 L950.80,750.53 L951.84,750.09 L952.87,749.58 L953.91,748.81 L954.94,747.98 L955.98,747.02 L957.02,745.81 L958.05,744.66 L959.09,743.19 L960.12,741.65 L961.16,739.99 L962.19,738.20 L963.23,736.16 L964.26,733.98 L965.30,731.62 L966.34,729.12 L967.37,726.43 L968.41,723.68 L969.44,720.61 L970.48,717.54 L971.51,714.28 L972.55,710.70 L973.58,706.93 L974.62,703.15 L975.60,699.04 L976.54,694.73 L977.49,690.30 L978.43,685.68 L979.45,680.81 L980.48,675.89 L981.52,670.77 L982.55,665.34 L983.59,659.90 L984.62,654.08 L985.66,648.20 L986.69,642.12 L987.73,635.79 L988.76,629.26 L989.80,622.67 L990.83,615.70 L991.87,608.66 L992.90,601.50 L993.94,594.08 L994.98,586.53 L996.01,578.85 L997.05,570.85 L998.08,562.79 L999.12,554.67 L1000.15,546.22 L1001.19,537.65 L1002.22,528.88 L1003.26,520.12 L1004.29,511.03 L1005.33,501.88 L1006.37,492.67 L1007.40,483.26 L1008.44,473.79 L1009.47,464.13 L1010.51,454.47 L1011.54,444.62 L1012.58,434.63 L1013.61,424.72 L1014.65,414.61 L1015.69,404.43 L1016.82,394.33 L1017.95,384.10 L1019.07,373.74 L1020.19,363.39 L1021.22,353.15 L1022.26,342.78 L1023.29,332.35 L1024.34,321.99 L1025.42,311.69 L1026.50,301.45 L1027.57,291.16 L1028.63,280.92 L1029.67,270.81 L1030.70,260.89 L1031.74,250.85 L1032.77,241.06 L1033.81,231.33 L1034.84,221.73 L1035.88,212.26 L1036.91,202.92 L1037.95,193.77 L1038.99,184.94 L1040.02,176.24 L1041.06,167.79 L1042.09,159.41 L1043.13,151.48 L1044.16,143.80 L1045.20,136.31 L1046.23,129.08 L1047.27,122.37 L1048.31,115.78 L1049.34,109.64 L1050.38,103.75 L1051.41,98.32 L1052.45,93.20 L1053.48,88.60 L1054.52,84.38 L1055.55,80.67 L1056.57,77.35 L1057.56,74.46 L1058.56,72.21 L1059.55,70.28 L1060.57,69.05 L1061.61,68.29 L1062.65,68.03 L1063.70,68.33 L1064.77,69.21 L1065.85,70.74 L1066.93,72.91 L1067.98,75.67 L1069.01,79.27 L1070.05,83.37 L1071.09,88.17 L1072.12,93.56 L1073.16,99.77 L1074.20,106.75 L1075.23,114.24 L1076.27,122.56 L1077.30,131.59 L1078.34,141.52 L1079.37,152.33 L1080.41,163.66 L1081.45,175.89 L1082.48,188.89 L1083.50,202.71 L1084.50,217.31 L1085.49,232.87 L1086.49,249.19 L1087.50,266.35" fill="none" stroke="#bf00bf" stroke-width="3.4" stroke-linejoin="round" shape-rendering="crispEdges"/>
<path d="M156.50,666.32 L157.54,666.19 L158.57,665.81 L159.61,665.68 L160.64,665.55 L161.68,665.43 L162.71,665.17 L163.75,665.18 L164.78,664.92 L165.82,664.80 L166.86,664.80 L167.89,664.54 L168.93,664.29 L169.96,664.42 L171.00,664.16 L172.03,663.91 L173.07,663.91 L174.11,663.91 L175.14,663.79 L176.18,663.53 L177.21,663.41 L178.25,663.28 L179.28,663.28 L180.32,663.16 L181.35,663.03 L182.39,662.90 L183.43,662.91 L184.46,662.91 L185.50,662.52 L186.53,662.40 L187.57,662.53 L188.60,662.53 L189.64,662.28 L190.67,662.15 L191.71,662.15 L192.75,662.02 L193.78,662.03 L194.82,661.90 L195.85,661.90 L196.89,661.78 L197.92,661.52 L198.96,661.52 L199.99,661.40 L201.03,661.40 L202.07,661.40 L203.10,661.27 L204.14,661.02 L205.17,660.89 L206.21,660.90 L207.24,661.03 L208.28,660.77 L209.32,660.64 L210.35,660.65 L211.39,660.52 L212.42,660.52 L213.46,660.40 L214.49,660.40 L215.53,660.27 L216.56,660.14 L217.60,660.15 L218.64,659.89 L219.67,660.02 L220.71,659.77 L221.74,659.64 L222.78,659.64 L223.81,659.52 L224.85,659.39 L225.88,659.26 L226.92,659.27 L227.96,659.40 L228.99,659.14 L230.03,659.14 L231.06,659.02 L232.10,658.89 L233.13,658.76 L234.17,658.64 L235.21,658.64 L236.24,658.51 L237.28,658.52 L238.31,658.39 L239.35,658.26 L240.38,658.27 L241.42,658.27 L242.45,658.14 L243.49,658.01 L244.53,657.89 L245.56,657.89 L246.60,657.76 L247.63,657.77 L248.67,657.64 L249.70,657.64 L250.74,657.51 L251.77,657.39 L252.81,657.39 L253.85,657.39 L254.88,657.14 L255.92,657.14 L256.95,657.14 L257.99,657.01 L259.02,657.02 L260.06,657.02 L261.10,657.02 L262.13,656.89 L263.17,656.64 L264.20,656.64 L265.24,656.51 L266.27,656.52 L267.31,656.52 L268.34,656.39 L269.38,656.39 L270.42,656.27 L271.45,656.27 L272.49,656.02 L273.52,656.02 L274.56,656.02 L275.59,655.89 L276.63,655.89 L277.66,655.77 L278.70,655.77 L279.74,655.77 L280.77,655.90 L281.81,655.52 L282.84,655.65 L283.88,655.52 L284.91,655.52 L285.95,655.53 L286.98,655.27 L288.02,655.27 L289.06,655.40 L290.09,655.15 L291.13,655.28 L292.16,655.15 L293.20,655.28 L294.23,655.16 L295.27,655.03 L296.31,655.03 L297.34,655.03 L298.38,654.78 L299.41,654.91 L300.45,654.91 L301.48,654.91 L302.52,654.79 L303.55,654.79 L304.59,654.79 L305.63,654.66 L306.66,654.66 L307.70,654.67 L308.73,654.54 L309.77,654.67 L310.80,654.54 L311.84,654.42 L312.87,654.42 L313.91,654.42 L314.95,654.42 L315.98,654.42 L317.02,654.30 L318.05,654.30 L319.09,654.17 L320.12,654.30 L321.16,654.43 L322.20,654.18 L323.23,654.31 L324.27,654.05 L325.30,654.18 L326.34,654.06 L327.37,654.06 L328.41,654.19 L329.44,654.06 L330.48,654.06 L331.52,653.94 L332.55,653.94 L333.59,653.94 L334.62,653.94 L335.66,653.82 L336.69,653.95 L337.73,653.95 L338.76,653.95 L339.80,653.82 L340.84,653.83 L341.87,653.83 L342.91,653.83 L343.94,653.83 L344.98,653.71 L346.01,653.71 L347.05,653.71 L348.09,653.71 L349.12,653.58 L350.16,653.46 L351.19,653.59 L352.23,653.59 L353.26,653.59 L354.30,653.59 L355.33,653.47 L356.37,653.72 L357.41,653.47 L358.44,653.47 L359.48,653.60 L360.51,653.35 L361.55,653.61 L362.58,653.48 L363.62,653.48 L364.65,653.48 L365.69,653.36 L366.73,653.36 L367.76,653.49 L368.80,653.49 L369.83,653.36 L370.87,653.36 L371.90,653.37 L372.94,653.37 L373.97,653.24 L375.01,653.24 L376.05,653.37 L377.08,653.25 L378.12,653.12 L379.15,653.38 L380.19,653.25 L381.22,653.25 L382.26,653.38 L383.30,653.39 L384.33,653.26 L385.37,653.39 L386.40,653.14 L387.44,653.26 L388.47,653.27 L389.51,653.27 L390.54,653.14 L391.58,653.27 L392.62,653.27 L393.65,653.28 L394.69,653.15 L395.72,653.28 L396.76,653.15 L397.79,653.28 L398.83,653.16 L399.86,653.29 L400.90,653.16 L401.94,653.29 L402.97,653.16 L404.01,653.29 L405.04,653.17 L406.08,653.17 L407.11,653.17 L408.15,653.17 L409.19,653.30 L410.22,653.30 L411.26,653.18 L412.29,653.31 L413.33,653.31 L414.36,653.31 L415.40,653.31 L416.43,653.19 L417.47,653.32 L418.51,653.32 L419.54,653.19 L420.58,653.32 L421.61,653.32 L422.65,653.20 L423.68,653.20 L424.72,653.33 L425.75,653.33 L426.79,653.33 L427.83,653.46 L428.86,653.33 L429.90,653.21 L430.93,653.34 L431.97,653.21 L433.00,653.34 L434.04,653.34 L435.08,653.35 L436.11,653.22 L437.15,653.22 L438.18,653.35 L439.22,653.35 L440.25,653.23 L441.29,653.36 L442.32,653.36 L443.36,653.36 L444.40,653.36 L445.43,653.36 L446.47,653.36 L447.50,653.24 L448.54,653.37 L449.57,653.37 L450.61,653.37 L451.64,653.37 L452.68,653.50 L453.72,653.38 L454.75,653.38 L455.79,653.38 L456.82,653.32 L457.86,653.38 L458.89,653.39 L459.93,653.32 L460.96,653.39 L462.00,653.39 L463.04,653.39 L464.07,653.39 L465.11,653.40 L466.14,653.33 L467.18,653.40 L468.21,653.40 L469.25,653.34 L470.29,653.40 L471.32,653.41 L472.36,653.28 L473.39,653.28 L474.43,653.41 L475.46,653.41 L476.50,653.41 L477.53,653.29 L478.57,653.29 L479.61,653.42 L480.64,653.42 L481.68,653.36 L482.71,653.30 L483.75,653.30 L484.78,653.43 L485.82,653.37 L486.85,653.30 L487.89,653.37 L488.93,653.37 L489.96,653.31 L491.00,653.25 L492.03,653.25 L493.07,653.31 L494.10,653.25 L495.14,653.45 L496.18,653.19 L497.21,653.26 L498.25,653.32 L499.28,653.33 L500.32,653.20 L501.35,653.20 L502.39,653.27 L503.42,653.33 L504.46,653.33 L505.50,653.34 L506.53,653.27 L507.57,653.21 L508.60,653.34 L509.64,653.21 L510.67,653.28 L511.71,653.15 L512.74,653.22 L513.78,653.22 L514.82,653.29 L515.85,653.23 L516.89,653.16 L517.92,653.23 L518.96,653.23 L519.99,653.23 L521.03,653.17 L522.07,653.24 L523.10,653.24 L524.14,653.24 L525.17,653.18 L526.21,653.18 L527.24,653.24 L528.28,653.18 L529.31,653.12 L530.35,653.19 L531.39,653.32 L532.42,653.25 L533.46,653.25 L534.49,653.13 L535.53,653.19 L536.56,653.26 L537.60,653.20 L538.63,653.14 L539.67,653.07 L540.71,653.20 L541.74,653.27 L542.78,653.14 L543.81,653.27 L544.85,653.15 L545.88,653.21 L546.92,653.15 L547.95,653.09 L548.99,653.15 L550.03,653.22 L551.06,653.16 L552.10,653.22 L553.13,653.16 L554.17,653.16 L555.20,653.16 L556.24,653.23 L557.28,653.17 L558.31,653.30 L559.35,653.17 L560.38,653.11 L561.42,653.17 L562.45,653.05 L563.49,653.05 L564.52,653.05 L565.56,653.12 L566.60,653.05 L567.63,653.06 L568.67,652.99 L569.70,653.00 L570.74,653.00 L571.77,653.00 L572.81,652.94 L573.84,652.94 L574.88,652.94 L575.92,652.81 L576.95,652.75 L577.99,652.88 L579.02,652.82 L580.06,652.69 L581.09,652.63 L582.13,652.70 L583.17,652.63 L584.20,652.64 L585.24,652.57 L586.27,652.58 L587.31,652.51 L588.34,652.45 L589.38,652.39 L590.41,652.33 L591.45,652.26 L592.49,652.27 L593.52,652.33 L594.56,652.14 L595.59,652.14 L596.63,652.02 L597.66,652.02 L598.70,651.96 L599.73,651.83 L600.77,651.83 L601.81,651.71 L602.84,651.71 L603.88,651.52 L604.91,651.52 L605.95,651.59 L606.98,651.46 L608.02,651.33 L609.06,651.27 L610.09,651.21 L611.13,651.21 L612.16,651.08 L613.20,650.96 L614.23,650.77 L615.27,650.83 L616.30,650.71 L617.34,650.58 L618.38,650.52 L619.41,650.46 L620.45,650.33 L621.48,650.33 L622.52,650.14 L623.55,650.21 L624.59,649.95 L625.62,649.83 L626.66,649.83 L627.70,649.70 L628.73,649.58 L629.77,649.45 L630.80,649.32 L631.84,649.26 L632.87,649.20 L633.91,649.07 L634.94,648.95 L635.98,648.88 L637.02,648.76 L638.05,648.57 L639.09,648.44 L640.12,648.44 L641.16,648.25 L642.19,648.19 L643.23,648.06 L644.27,647.94 L645.30,647.75 L646.34,647.69 L647.37,647.56 L648.41,647.43 L649.44,647.37 L650.48,647.24 L651.51,647.05 L652.55,646.99 L653.59,646.80 L654.62,646.68 L655.66,646.68 L656.69,646.42 L657.73,646.36 L658.76,646.23 L659.80,646.04 L660.83,645.92 L661.87,645.86 L662.91,645.67 L663.94,645.60 L664.98,645.28 L666.01,645.29 L667.05,645.10 L668.08,644.91 L669.12,644.78 L670.16,644.59 L671.19,644.53 L672.23,644.40 L673.26,644.15 L674.30,644.28 L675.33,644.02 L676.37,643.77 L677.40,643.64 L678.44,643.52 L679.48,643.39 L680.51,643.13 L681.55,643.01 L682.58,642.95 L683.62,642.69 L684.65,642.50 L685.69,642.38 L686.72,642.12 L687.76,642.00 L688.80,641.80 L689.83,641.68 L690.87,641.49 L691.90,641.23 L692.94,641.11 L693.97,640.92 L695.01,640.66 L696.05,640.60 L697.08,640.35 L698.12,640.03 L699.15,639.97 L700.19,639.71 L701.22,639.46 L702.26,639.33 L703.29,639.14 L704.33,638.89 L705.37,638.70 L706.40,638.38 L707.44,638.12 L708.47,637.93 L709.51,637.74 L710.54,637.55 L711.58,637.30 L712.61,636.98 L713.65,636.79 L714.69,636.47 L715.72,636.28 L716.76,636.03 L717.79,635.84 L718.83,635.52 L719.86,635.20 L720.90,634.95 L721.93,634.69 L722.97,634.25 L724.01,634.06 L725.04,633.74 L726.08,633.48 L727.11,633.23 L728.15,632.85 L729.18,632.46 L730.22,632.34 L731.26,631.96 L732.29,631.70 L733.33,631.32 L734.36,631.07 L735.40,630.75 L736.43,630.43 L737.47,630.11 L738.50,629.79 L739.54,629.41 L740.58,629.16 L741.61,628.71 L742.65,628.39 L743.68,628.01 L744.72,627.69 L745.75,627.37 L746.79,627.12 L747.82,626.67 L748.86,626.35 L749.90,625.84 L750.93,625.59 L751.97,625.21 L753.00,624.89 L754.04,624.51 L755.07,624.12 L756.11,623.74 L757.15,623.49 L758.18,623.04 L759.22,622.66 L760.25,622.28 L761.29,621.89 L762.32,621.51 L763.36,621.26 L764.39,620.75 L765.43,620.49 L766.47,620.11 L767.50,619.73 L768.54,619.41 L769.57,619.09 L770.61,618.65 L771.64,618.39 L772.68,617.95 L773.71,617.69 L774.75,617.18 L775.79,616.93 L776.82,616.61 L777.86,616.23 L778.89,615.91 L779.93,615.53 L780.96,615.21 L782.00,614.89 L783.04,614.57 L784.07,614.38 L785.11,614.06 L786.14,613.68 L787.18,613.49 L788.21,613.17 L789.25,612.92 L790.28,612.60 L791.32,612.47 L792.36,612.03 L793.39,611.90 L794.43,611.58 L795.46,611.46 L796.50,611.20 L797.53,610.95 L798.57,610.76 L799.60,610.50 L800.64,610.44 L801.68,610.19 L802.71,610.12 L803.75,609.93 L804.78,609.87 L805.82,609.75 L806.85,609.68 L807.89,609.56 L808.92,609.43 L809.96,609.43 L811.00,609.24 L812.03,609.31 L813.07,609.18 L814.10,609.25 L815.14,609.19 L816.17,609.25 L817.21,609.32 L818.25,609.32 L819.28,609.45 L820.32,609.58 L821.35,609.58 L822.39,609.77 L823.42,609.90 L824.46,610.03 L825.49,610.29 L826.53,610.48 L827.57,610.55 L828.60,610.81 L829.64,611.13 L830.67,611.52 L831.71,611.65 L832.74,612.03 L833.78,612.35 L834.81,612.74 L835.85,613.06 L836.89,613.45 L837.92,614.02 L838.96,614.35 L839.99,614.80 L841.03,615.37 L842.06,616.02 L843.10,616.46 L844.14,617.04 L845.17,617.56 L846.21,618.20 L847.24,618.84 L848.28,619.55 L849.31,620.38 L850.35,620.89 L851.38,621.66 L852.42,622.56 L853.46,623.33 L854.49,624.10 L855.53,625.00 L856.56,625.90 L857.60,626.79 L858.63,627.88 L859.67,628.65 L860.70,629.68 L861.74,630.77 L862.78,631.86 L863.81,632.88 L864.85,633.97 L865.88,635.26 L866.92,636.34 L867.95,637.50 L868.99,638.84 L870.03,639.87 L871.06,641.15 L872.10,642.56 L873.13,643.91 L874.17,645.25 L875.20,646.60 L876.24,648.07 L877.27,649.61 L878.31,651.08 L879.35,652.56 L880.38,654.10 L881.42,655.63 L882.45,657.17 L883.49,658.84 L884.52,660.50 L885.56,662.10 L886.59,663.71 L887.63,665.44 L888.67,667.17 L889.70,668.83 L890.74,670.63 L891.77,672.55 L892.81,674.21 L893.84,676.07 L894.88,677.86 L895.91,679.66 L896.95,681.52 L897.99,683.50 L899.02,685.36 L900.06,687.15 L901.09,689.07 L902.13,691.00 L903.16,692.92 L904.20,694.97 L905.24,696.76 L906.27,698.75 L907.31,700.67 L908.34,702.53 L909.38,704.45 L910.41,706.50 L911.45,708.36 L912.48,710.21 L913.52,712.07 L914.56,714.06 L915.59,715.85 L916.63,717.71 L917.66,719.57 L918.70,721.30 L919.73,723.09 L920.77,724.82 L921.80,726.55 L922.84,728.22 L923.88,729.82 L924.91,731.48 L925.95,733.02 L926.98,734.56 L928.02,736.10 L929.05,737.51 L930.09,738.92 L931.13,740.13 L932.16,741.48 L933.20,742.63 L934.23,743.79 L935.27,744.81 L936.30,745.97 L937.34,746.74 L938.37,747.57 L939.41,748.40 L940.45,749.05 L941.48,749.69 L942.52,750.14 L943.55,750.46 L944.59,750.91 L945.62,751.10 L946.66,751.36 L947.69,751.23 L948.73,751.24 L949.77,750.92 L950.80,750.53 L951.84,750.09 L952.87,749.58 L953.91,748.81 L954.94,747.98 L955.98,747.02 L957.02,745.81 L958.05,744.66 L959.09,743.19 L960.12,741.65 L961.16,739.99 L962.19,738.20 L963.23,736.16 L964.26,733.98 L965.30,731.62 L966.34,729.12 L967.37,726.43 L968.41,723.68 L969.44,720.61 L970.48,717.54 L971.51,714.28 L972.55,710.70 L973.58,706.93 L974.62,703.15 L975.66,699.06 L976.69,694.77 L977.73,690.36 L978.76,685.75 L979.80,680.89 L980.83,675.96 L981.87,670.84 L982.90,665.40 L983.94,659.97 L984.98,654.14 L986.01,648.26 L987.05,642.18 L988.08,635.85 L989.12,629.32 L990.15,622.73 L991.19,615.75 L992.23,608.72 L993.26,601.55 L994.30,594.13 L995.33,586.58 L996.37,578.90 L997.40,570.90 L998.44,562.84 L999.47,554.71 L1000.51,546.27 L1001.55,537.69 L1002.58,528.93 L1003.62,520.16 L1004.65,511.07 L1005.69,501.92 L1006.72,492.71 L1007.76,483.30 L1008.79,473.83 L1009.83,464.17 L1010.87,454.51 L1011.90,444.65 L1012.94,434.67 L1013.97,424.75 L1015.01,414.64 L1016.04,404.47 L1017.08,394.36 L1018.12,384.12 L1019.15,373.75 L1020.19,363.39 L1021.22,353.15 L1022.26,342.78 L1023.29,332.35 L1024.33,321.99 L1025.36,311.68 L1026.40,301.44 L1027.44,291.14 L1028.47,280.90 L1029.51,270.79 L1030.54,260.88 L1031.58,250.83 L1032.61,241.04 L1033.65,231.31 L1034.68,221.71 L1035.72,212.24 L1036.76,202.90 L1037.79,193.75 L1038.83,184.92 L1039.86,176.22 L1040.90,167.77 L1041.93,159.39 L1042.97,151.46 L1044.01,143.78 L1045.04,136.29 L1046.08,129.06 L1047.11,122.34 L1048.15,115.75 L1049.18,109.61 L1050.22,103.72 L1051.25,98.29 L1052.29,93.17 L1053.33,88.56 L1054.36,84.34 L1055.40,80.63 L1056.43,77.30 L1057.47,74.42 L1058.50,72.19 L1059.54,70.27 L1060.57,69.05 L1061.61,68.29 L1062.65,68.03 L1063.68,68.35 L1064.72,69.25 L1065.75,70.79 L1066.79,72.97 L1067.82,75.72 L1068.86,79.31 L1069.89,83.41 L1070.93,88.21 L1071.97,93.58 L1073.00,99.79 L1074.04,106.77 L1075.07,114.26 L1076.11,122.58 L1077.14,131.61 L1078.18,141.53 L1079.22,152.35 L1080.25,163.68 L1081.29,175.90 L1082.32,188.90 L1083.36,202.72 L1084.39,217.32 L1085.43,232.87 L1086.46,249.19 L1087.50,266.35" fill="none" stroke="#bfbf00" stroke-width="3.4" stroke-linejoin="round" shape-rendering="crispEdges"/>
<g><rect x="223.5" y="185.5" width="253" height="211" fill="#fff" stroke="#000" stroke-width="1"/><polygon fill="none" stroke="#000" points="266.5,197.5 270.5,197.5 274.5,201.5 274.5,205.5 270.5,209.5 266.5,209.5 262.5,205.5 262.5,201.5"/><line x1="236" y1="232.5" x2="302" y2="232.5" stroke="#0000ff" stroke-width="3"/><line x1="236" y1="261.5" x2="302" y2="261.5" stroke="#008000" stroke-width="3"/><line x1="236" y1="290.5" x2="302" y2="290.5" stroke="#ff0000" stroke-width="3"/><line x1="236" y1="319.5" x2="302" y2="319.5" stroke="#00bfbf" stroke-width="3"/><line x1="236" y1="348.5" x2="302" y2="348.5" stroke="#bf00bf" stroke-width="3"/><line x1="236" y1="377.5" x2="302" y2="377.5" stroke="#bfbf00" stroke-width="3"/><g font-family="'Liberation Sans', Arial, Helvetica, sans-serif" filter="url(#bin)"><text transform="translate(308.5 211) scale(1 1.0)" font-size="21.7">Reference points</text><text transform="translate(308 241) scale(1 1.0)" font-size="22">Shape1</text><text transform="translate(308 270) scale(1 1.0)" font-size="22">Shape2</text><text transform="translate(308 299) scale(1 1.0)" font-size="22">Shape3</text><text transform="translate(308 328) scale(1 1.0)" font-size="22">Shape4</text><text transform="translate(308 357) scale(1 1.0)" font-size="22">Shape5</text><text transform="translate(308 386) scale(1 1.0)" font-size="22">Shape6</text></g></g>
</svg></body></html>
